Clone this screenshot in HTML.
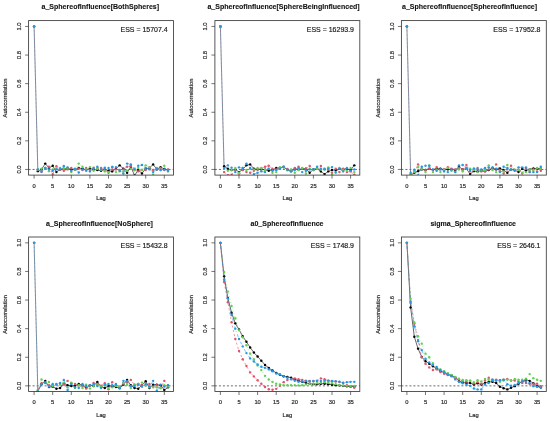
<!DOCTYPE html><html><head><meta charset="utf-8"><style>html,body{margin:0;padding:0;background:#fff}svg{display:block;filter:blur(0.3px)}</style></head><body><svg width="550" height="421" viewBox="0 0 550 421" font-family="Liberation Sans, sans-serif">
<rect width="550" height="421" fill="#fff"/>
<g transform="translate(0.00,0.00)">
<clipPath id="c0"><rect x="28.6" y="20.6" width="144.90" height="154.50"/></clipPath>
<line x1="28.6" x2="173.5" y1="169.45" y2="169.45" stroke="#2a2a2a" stroke-width="0.7" stroke-dasharray="2 2"/>
<g clip-path="url(#c0)">
<line x1="34.10" y1="26.45" x2="37.82" y2="169.99" stroke="#4f7790" stroke-width="0.8"/>
<line x1="34.10" y1="26.45" x2="37.82" y2="169.99" stroke="#DF536B" stroke-width="0.7" stroke-dasharray="1 3" opacity="0.7"/>
<path d="M37.82 171.14 L41.54 169.38 L45.26 163.58 L48.98 168.03 L52.70 165.74 L56.42 172.08 L60.14 169.38 L63.86 168.71 L67.58 168.71 L71.30 169.38 L75.02 169.38 L78.74 168.03 L82.46 168.71 L86.18 169.79 L89.90 168.71 L93.62 169.38 L97.34 170.06 L101.06 170.73 L104.78 169.38 L108.50 170.73 L112.22 171.41 L115.94 168.71 L119.66 165.34 L123.38 168.71 L127.10 172.76 L130.82 166.68 L134.54 175.45 L138.26 170.06 L141.98 173.43 L145.70 168.71 L149.42 168.03 L153.14 164.39 L156.86 169.38 L160.58 167.09 L164.30 168.98 L168.02 170.06" fill="none" stroke="#000000" stroke-width="0.6"/>
<circle cx="34.10" cy="26.45" r="1.2" fill="#000000"/>
<circle cx="37.82" cy="171.14" r="1.2" fill="#000000"/>
<circle cx="41.54" cy="169.38" r="1.2" fill="#000000"/>
<circle cx="45.26" cy="163.58" r="1.2" fill="#000000"/>
<circle cx="48.98" cy="168.03" r="1.2" fill="#000000"/>
<circle cx="52.70" cy="165.74" r="1.2" fill="#000000"/>
<circle cx="56.42" cy="172.08" r="1.2" fill="#000000"/>
<circle cx="60.14" cy="169.38" r="1.2" fill="#000000"/>
<circle cx="63.86" cy="168.71" r="1.2" fill="#000000"/>
<circle cx="67.58" cy="168.71" r="1.2" fill="#000000"/>
<circle cx="71.30" cy="169.38" r="1.2" fill="#000000"/>
<circle cx="75.02" cy="169.38" r="1.2" fill="#000000"/>
<circle cx="78.74" cy="168.03" r="1.2" fill="#000000"/>
<circle cx="82.46" cy="168.71" r="1.2" fill="#000000"/>
<circle cx="86.18" cy="169.79" r="1.2" fill="#000000"/>
<circle cx="89.90" cy="168.71" r="1.2" fill="#000000"/>
<circle cx="93.62" cy="169.38" r="1.2" fill="#000000"/>
<circle cx="97.34" cy="170.06" r="1.2" fill="#000000"/>
<circle cx="101.06" cy="170.73" r="1.2" fill="#000000"/>
<circle cx="104.78" cy="169.38" r="1.2" fill="#000000"/>
<circle cx="108.50" cy="170.73" r="1.2" fill="#000000"/>
<circle cx="112.22" cy="171.41" r="1.2" fill="#000000"/>
<circle cx="115.94" cy="168.71" r="1.2" fill="#000000"/>
<circle cx="119.66" cy="165.34" r="1.2" fill="#000000"/>
<circle cx="123.38" cy="168.71" r="1.2" fill="#000000"/>
<circle cx="127.10" cy="172.76" r="1.2" fill="#000000"/>
<circle cx="130.82" cy="166.68" r="1.2" fill="#000000"/>
<circle cx="134.54" cy="175.45" r="1.2" fill="#000000"/>
<circle cx="138.26" cy="170.06" r="1.2" fill="#000000"/>
<circle cx="141.98" cy="173.43" r="1.2" fill="#000000"/>
<circle cx="145.70" cy="168.71" r="1.2" fill="#000000"/>
<circle cx="149.42" cy="168.03" r="1.2" fill="#000000"/>
<circle cx="153.14" cy="164.39" r="1.2" fill="#000000"/>
<circle cx="156.86" cy="169.38" r="1.2" fill="#000000"/>
<circle cx="160.58" cy="167.09" r="1.2" fill="#000000"/>
<circle cx="164.30" cy="168.98" r="1.2" fill="#000000"/>
<circle cx="168.02" cy="170.06" r="1.2" fill="#000000"/>
<path d="M37.82 170.06 L41.54 171.68 L45.26 168.71 L48.98 166.68 L52.70 174.10 L56.42 166.28 L60.14 169.38 L63.86 170.73 L67.58 169.38 L71.30 168.03 L75.02 169.38 L78.74 168.71 L82.46 170.06 L86.18 168.03 L89.90 170.06 L93.62 167.63 L97.34 168.71 L101.06 168.03 L104.78 170.06 L108.50 172.76 L112.22 169.38 L115.94 169.38 L119.66 170.06 L123.38 169.38 L127.10 166.68 L130.82 166.01 L134.54 170.06 L138.26 171.41 L141.98 170.06 L145.70 170.06 L149.42 167.36 L153.14 170.06 L156.86 168.71 L160.58 168.03 L164.30 170.06 L168.02 169.38" fill="none" stroke="#DF536B" stroke-width="0.6" stroke-dasharray="2.2 2.2"/>
<circle cx="34.10" cy="26.45" r="1.2" fill="#DF536B"/>
<circle cx="37.82" cy="170.06" r="1.2" fill="#DF536B"/>
<circle cx="41.54" cy="171.68" r="1.2" fill="#DF536B"/>
<circle cx="45.26" cy="168.71" r="1.2" fill="#DF536B"/>
<circle cx="48.98" cy="166.68" r="1.2" fill="#DF536B"/>
<circle cx="52.70" cy="174.10" r="1.2" fill="#DF536B"/>
<circle cx="56.42" cy="166.28" r="1.2" fill="#DF536B"/>
<circle cx="60.14" cy="169.38" r="1.2" fill="#DF536B"/>
<circle cx="63.86" cy="170.73" r="1.2" fill="#DF536B"/>
<circle cx="67.58" cy="169.38" r="1.2" fill="#DF536B"/>
<circle cx="71.30" cy="168.03" r="1.2" fill="#DF536B"/>
<circle cx="75.02" cy="169.38" r="1.2" fill="#DF536B"/>
<circle cx="78.74" cy="168.71" r="1.2" fill="#DF536B"/>
<circle cx="82.46" cy="170.06" r="1.2" fill="#DF536B"/>
<circle cx="86.18" cy="168.03" r="1.2" fill="#DF536B"/>
<circle cx="89.90" cy="170.06" r="1.2" fill="#DF536B"/>
<circle cx="93.62" cy="167.63" r="1.2" fill="#DF536B"/>
<circle cx="97.34" cy="168.71" r="1.2" fill="#DF536B"/>
<circle cx="101.06" cy="168.03" r="1.2" fill="#DF536B"/>
<circle cx="104.78" cy="170.06" r="1.2" fill="#DF536B"/>
<circle cx="108.50" cy="172.76" r="1.2" fill="#DF536B"/>
<circle cx="112.22" cy="169.38" r="1.2" fill="#DF536B"/>
<circle cx="115.94" cy="169.38" r="1.2" fill="#DF536B"/>
<circle cx="119.66" cy="170.06" r="1.2" fill="#DF536B"/>
<circle cx="123.38" cy="169.38" r="1.2" fill="#DF536B"/>
<circle cx="127.10" cy="166.68" r="1.2" fill="#DF536B"/>
<circle cx="130.82" cy="166.01" r="1.2" fill="#DF536B"/>
<circle cx="134.54" cy="170.06" r="1.2" fill="#DF536B"/>
<circle cx="138.26" cy="171.41" r="1.2" fill="#DF536B"/>
<circle cx="141.98" cy="170.06" r="1.2" fill="#DF536B"/>
<circle cx="145.70" cy="170.06" r="1.2" fill="#DF536B"/>
<circle cx="149.42" cy="167.36" r="1.2" fill="#DF536B"/>
<circle cx="153.14" cy="170.06" r="1.2" fill="#DF536B"/>
<circle cx="156.86" cy="168.71" r="1.2" fill="#DF536B"/>
<circle cx="160.58" cy="168.03" r="1.2" fill="#DF536B"/>
<circle cx="164.30" cy="170.06" r="1.2" fill="#DF536B"/>
<circle cx="168.02" cy="169.38" r="1.2" fill="#DF536B"/>
<path d="M37.82 169.38 L41.54 168.71 L45.26 168.03 L48.98 171.14 L52.70 169.38 L56.42 168.71 L60.14 168.03 L63.86 168.71 L67.58 168.03 L71.30 172.08 L75.02 169.38 L78.74 163.58 L82.46 166.68 L86.18 169.38 L89.90 167.09 L93.62 170.73 L97.34 168.71 L101.06 170.06 L104.78 171.41 L108.50 172.08 L112.22 166.68 L115.94 172.08 L119.66 171.41 L123.38 171.41 L127.10 170.73 L130.82 168.71 L134.54 170.06 L138.26 168.03 L141.98 170.06 L145.70 165.34 L149.42 167.36 L153.14 174.78 L156.86 168.03 L160.58 170.06 L164.30 165.74 L168.02 171.41" fill="none" stroke="#61D04F" stroke-width="0.6" stroke-dasharray="0.8 2.2"/>
<circle cx="34.10" cy="26.45" r="1.2" fill="#61D04F"/>
<circle cx="37.82" cy="169.38" r="1.2" fill="#61D04F"/>
<circle cx="41.54" cy="168.71" r="1.2" fill="#61D04F"/>
<circle cx="45.26" cy="168.03" r="1.2" fill="#61D04F"/>
<circle cx="48.98" cy="171.14" r="1.2" fill="#61D04F"/>
<circle cx="52.70" cy="169.38" r="1.2" fill="#61D04F"/>
<circle cx="56.42" cy="168.71" r="1.2" fill="#61D04F"/>
<circle cx="60.14" cy="168.03" r="1.2" fill="#61D04F"/>
<circle cx="63.86" cy="168.71" r="1.2" fill="#61D04F"/>
<circle cx="67.58" cy="168.03" r="1.2" fill="#61D04F"/>
<circle cx="71.30" cy="172.08" r="1.2" fill="#61D04F"/>
<circle cx="75.02" cy="169.38" r="1.2" fill="#61D04F"/>
<circle cx="78.74" cy="163.58" r="1.2" fill="#61D04F"/>
<circle cx="82.46" cy="166.68" r="1.2" fill="#61D04F"/>
<circle cx="86.18" cy="169.38" r="1.2" fill="#61D04F"/>
<circle cx="89.90" cy="167.09" r="1.2" fill="#61D04F"/>
<circle cx="93.62" cy="170.73" r="1.2" fill="#61D04F"/>
<circle cx="97.34" cy="168.71" r="1.2" fill="#61D04F"/>
<circle cx="101.06" cy="170.06" r="1.2" fill="#61D04F"/>
<circle cx="104.78" cy="171.41" r="1.2" fill="#61D04F"/>
<circle cx="108.50" cy="172.08" r="1.2" fill="#61D04F"/>
<circle cx="112.22" cy="166.68" r="1.2" fill="#61D04F"/>
<circle cx="115.94" cy="172.08" r="1.2" fill="#61D04F"/>
<circle cx="119.66" cy="171.41" r="1.2" fill="#61D04F"/>
<circle cx="123.38" cy="171.41" r="1.2" fill="#61D04F"/>
<circle cx="127.10" cy="170.73" r="1.2" fill="#61D04F"/>
<circle cx="130.82" cy="168.71" r="1.2" fill="#61D04F"/>
<circle cx="134.54" cy="170.06" r="1.2" fill="#61D04F"/>
<circle cx="138.26" cy="168.03" r="1.2" fill="#61D04F"/>
<circle cx="141.98" cy="170.06" r="1.2" fill="#61D04F"/>
<circle cx="145.70" cy="165.34" r="1.2" fill="#61D04F"/>
<circle cx="149.42" cy="167.36" r="1.2" fill="#61D04F"/>
<circle cx="153.14" cy="174.78" r="1.2" fill="#61D04F"/>
<circle cx="156.86" cy="168.03" r="1.2" fill="#61D04F"/>
<circle cx="160.58" cy="170.06" r="1.2" fill="#61D04F"/>
<circle cx="164.30" cy="165.74" r="1.2" fill="#61D04F"/>
<circle cx="168.02" cy="171.41" r="1.2" fill="#61D04F"/>
<path d="M37.82 169.38 L41.54 171.68 L45.26 168.03 L48.98 169.38 L52.70 170.73 L56.42 169.38 L60.14 168.71 L63.86 166.01 L67.58 167.36 L71.30 170.73 L75.02 168.71 L78.74 172.49 L82.46 169.38 L86.18 170.73 L89.90 171.41 L93.62 168.71 L97.34 166.68 L101.06 169.38 L104.78 167.63 L108.50 168.03 L112.22 167.09 L115.94 167.09 L119.66 170.73 L123.38 173.43 L127.10 163.58 L130.82 164.39 L134.54 168.71 L138.26 165.74 L141.98 164.93 L145.70 168.03 L149.42 169.38 L153.14 172.08 L156.86 168.71 L160.58 170.06 L164.30 169.38 L168.02 170.73" fill="none" stroke="#2297E6" stroke-width="0.6" stroke-dasharray="0.8 2.2 3 2.2"/>
<circle cx="34.10" cy="26.45" r="1.2" fill="#2297E6"/>
<circle cx="37.82" cy="169.38" r="1.2" fill="#2297E6"/>
<circle cx="41.54" cy="171.68" r="1.2" fill="#2297E6"/>
<circle cx="45.26" cy="168.03" r="1.2" fill="#2297E6"/>
<circle cx="48.98" cy="169.38" r="1.2" fill="#2297E6"/>
<circle cx="52.70" cy="170.73" r="1.2" fill="#2297E6"/>
<circle cx="56.42" cy="169.38" r="1.2" fill="#2297E6"/>
<circle cx="60.14" cy="168.71" r="1.2" fill="#2297E6"/>
<circle cx="63.86" cy="166.01" r="1.2" fill="#2297E6"/>
<circle cx="67.58" cy="167.36" r="1.2" fill="#2297E6"/>
<circle cx="71.30" cy="170.73" r="1.2" fill="#2297E6"/>
<circle cx="75.02" cy="168.71" r="1.2" fill="#2297E6"/>
<circle cx="78.74" cy="172.49" r="1.2" fill="#2297E6"/>
<circle cx="82.46" cy="169.38" r="1.2" fill="#2297E6"/>
<circle cx="86.18" cy="170.73" r="1.2" fill="#2297E6"/>
<circle cx="89.90" cy="171.41" r="1.2" fill="#2297E6"/>
<circle cx="93.62" cy="168.71" r="1.2" fill="#2297E6"/>
<circle cx="97.34" cy="166.68" r="1.2" fill="#2297E6"/>
<circle cx="101.06" cy="169.38" r="1.2" fill="#2297E6"/>
<circle cx="104.78" cy="167.63" r="1.2" fill="#2297E6"/>
<circle cx="108.50" cy="168.03" r="1.2" fill="#2297E6"/>
<circle cx="112.22" cy="167.09" r="1.2" fill="#2297E6"/>
<circle cx="115.94" cy="167.09" r="1.2" fill="#2297E6"/>
<circle cx="119.66" cy="170.73" r="1.2" fill="#2297E6"/>
<circle cx="123.38" cy="173.43" r="1.2" fill="#2297E6"/>
<circle cx="127.10" cy="163.58" r="1.2" fill="#2297E6"/>
<circle cx="130.82" cy="164.39" r="1.2" fill="#2297E6"/>
<circle cx="134.54" cy="168.71" r="1.2" fill="#2297E6"/>
<circle cx="138.26" cy="165.74" r="1.2" fill="#2297E6"/>
<circle cx="141.98" cy="164.93" r="1.2" fill="#2297E6"/>
<circle cx="145.70" cy="168.03" r="1.2" fill="#2297E6"/>
<circle cx="149.42" cy="169.38" r="1.2" fill="#2297E6"/>
<circle cx="153.14" cy="172.08" r="1.2" fill="#2297E6"/>
<circle cx="156.86" cy="168.71" r="1.2" fill="#2297E6"/>
<circle cx="160.58" cy="170.06" r="1.2" fill="#2297E6"/>
<circle cx="164.30" cy="169.38" r="1.2" fill="#2297E6"/>
<circle cx="168.02" cy="170.73" r="1.2" fill="#2297E6"/>
</g>
<rect x="28.6" y="20.6" width="144.90" height="154.50" fill="none" stroke="#3a3a3a" stroke-width="0.85"/>
<line x1="34.10" x2="34.10" y1="175.1" y2="178.6" stroke="#3a3a3a" stroke-width="0.7"/>
<text transform="translate(34.10,188.00) scale(0.9709,1)" font-size="5.974" text-anchor="middle" fill="#2a2a2a" stroke="#2a2a2a" stroke-width="0.2">0</text>
<line x1="52.70" x2="52.70" y1="175.1" y2="178.6" stroke="#3a3a3a" stroke-width="0.7"/>
<text transform="translate(52.70,188.00) scale(0.9709,1)" font-size="5.974" text-anchor="middle" fill="#2a2a2a" stroke="#2a2a2a" stroke-width="0.2">5</text>
<line x1="71.30" x2="71.30" y1="175.1" y2="178.6" stroke="#3a3a3a" stroke-width="0.7"/>
<text transform="translate(71.30,188.00) scale(0.9709,1)" font-size="5.974" text-anchor="middle" fill="#2a2a2a" stroke="#2a2a2a" stroke-width="0.2">10</text>
<line x1="89.90" x2="89.90" y1="175.1" y2="178.6" stroke="#3a3a3a" stroke-width="0.7"/>
<text transform="translate(89.90,188.00) scale(0.9709,1)" font-size="5.974" text-anchor="middle" fill="#2a2a2a" stroke="#2a2a2a" stroke-width="0.2">15</text>
<line x1="108.50" x2="108.50" y1="175.1" y2="178.6" stroke="#3a3a3a" stroke-width="0.7"/>
<text transform="translate(108.50,188.00) scale(0.9709,1)" font-size="5.974" text-anchor="middle" fill="#2a2a2a" stroke="#2a2a2a" stroke-width="0.2">20</text>
<line x1="127.10" x2="127.10" y1="175.1" y2="178.6" stroke="#3a3a3a" stroke-width="0.7"/>
<text transform="translate(127.10,188.00) scale(0.9709,1)" font-size="5.974" text-anchor="middle" fill="#2a2a2a" stroke="#2a2a2a" stroke-width="0.2">25</text>
<line x1="145.70" x2="145.70" y1="175.1" y2="178.6" stroke="#3a3a3a" stroke-width="0.7"/>
<text transform="translate(145.70,188.00) scale(0.9709,1)" font-size="5.974" text-anchor="middle" fill="#2a2a2a" stroke="#2a2a2a" stroke-width="0.2">30</text>
<line x1="164.30" x2="164.30" y1="175.1" y2="178.6" stroke="#3a3a3a" stroke-width="0.7"/>
<text transform="translate(164.30,188.00) scale(0.9709,1)" font-size="5.974" text-anchor="middle" fill="#2a2a2a" stroke="#2a2a2a" stroke-width="0.2">35</text>
<line x1="25.1" x2="28.6" y1="169.45" y2="169.45" stroke="#3a3a3a" stroke-width="0.7"/>
<text transform="translate(20.90,169.45) rotate(-90) scale(0.9709,1)" font-size="5.974" text-anchor="middle" fill="#2a2a2a" stroke="#2a2a2a" stroke-width="0.2">0.0</text>
<line x1="25.1" x2="28.6" y1="140.85" y2="140.85" stroke="#3a3a3a" stroke-width="0.7"/>
<text transform="translate(20.90,140.85) rotate(-90) scale(0.9709,1)" font-size="5.974" text-anchor="middle" fill="#2a2a2a" stroke="#2a2a2a" stroke-width="0.2">0.2</text>
<line x1="25.1" x2="28.6" y1="112.25" y2="112.25" stroke="#3a3a3a" stroke-width="0.7"/>
<text transform="translate(20.90,112.25) rotate(-90) scale(0.9709,1)" font-size="5.974" text-anchor="middle" fill="#2a2a2a" stroke="#2a2a2a" stroke-width="0.2">0.4</text>
<line x1="25.1" x2="28.6" y1="83.65" y2="83.65" stroke="#3a3a3a" stroke-width="0.7"/>
<text transform="translate(20.90,83.65) rotate(-90) scale(0.9709,1)" font-size="5.974" text-anchor="middle" fill="#2a2a2a" stroke="#2a2a2a" stroke-width="0.2">0.6</text>
<line x1="25.1" x2="28.6" y1="55.05" y2="55.05" stroke="#3a3a3a" stroke-width="0.7"/>
<text transform="translate(20.90,55.05) rotate(-90) scale(0.9709,1)" font-size="5.974" text-anchor="middle" fill="#2a2a2a" stroke="#2a2a2a" stroke-width="0.2">0.8</text>
<line x1="25.1" x2="28.6" y1="26.45" y2="26.45" stroke="#3a3a3a" stroke-width="0.7"/>
<text transform="translate(20.90,26.45) rotate(-90) scale(0.9709,1)" font-size="5.974" text-anchor="middle" fill="#2a2a2a" stroke="#2a2a2a" stroke-width="0.2">1.0</text>
<text transform="translate(100.30,8.90) scale(0.9259,1)" font-size="7.603" text-anchor="middle" font-weight="bold" fill="#111" stroke="#111" stroke-width="0.1">a_SphereofInfluence[BothSpheres]</text>
<text transform="translate(167.70,31.70) scale(0.9091,1)" font-size="7.700" text-anchor="end" fill="#151515" stroke="#151515" stroke-width="0.17">ESS = 15707.4</text>
<text transform="translate(101.00,200.40) scale(0.9709,1)" font-size="5.974" text-anchor="middle" fill="#2a2a2a" stroke="#2a2a2a" stroke-width="0.2">Lag</text>
<text transform="translate(7.10,98.00) rotate(-90) scale(0.9709,1)" font-size="5.974" text-anchor="middle" fill="#2a2a2a" stroke="#2a2a2a" stroke-width="0.2">Autocorrelation</text>
</g>
<g transform="translate(186.30,0.00)">
<clipPath id="c1"><rect x="28.6" y="20.6" width="144.90" height="154.50"/></clipPath>
<line x1="28.6" x2="173.5" y1="169.45" y2="169.45" stroke="#2a2a2a" stroke-width="0.7" stroke-dasharray="2 2"/>
<g clip-path="url(#c1)">
<line x1="34.10" y1="26.45" x2="37.82" y2="168.78" stroke="#4f7790" stroke-width="0.8"/>
<line x1="34.10" y1="26.45" x2="37.82" y2="168.78" stroke="#DF536B" stroke-width="0.7" stroke-dasharray="1 3" opacity="0.7"/>
<path d="M37.82 166.28 L41.54 168.71 L45.26 170.06 L48.98 169.38 L52.70 172.08 L56.42 169.38 L60.14 165.34 L63.86 164.39 L67.58 168.71 L71.30 169.38 L75.02 169.38 L78.74 169.79 L82.46 170.73 L86.18 170.06 L89.90 168.03 L93.62 168.03 L97.34 167.09 L101.06 169.79 L104.78 171.14 L108.50 168.71 L112.22 169.38 L115.94 168.71 L119.66 168.71 L123.38 172.76 L127.10 169.38 L130.82 168.71 L134.54 171.41 L138.26 174.10 L141.98 171.41 L145.70 170.06 L149.42 170.06 L153.14 168.71 L156.86 169.38 L160.58 168.71 L164.30 170.06 L168.02 165.34" fill="none" stroke="#000000" stroke-width="0.6"/>
<circle cx="34.10" cy="26.45" r="1.2" fill="#000000"/>
<circle cx="37.82" cy="166.28" r="1.2" fill="#000000"/>
<circle cx="41.54" cy="168.71" r="1.2" fill="#000000"/>
<circle cx="45.26" cy="170.06" r="1.2" fill="#000000"/>
<circle cx="48.98" cy="169.38" r="1.2" fill="#000000"/>
<circle cx="52.70" cy="172.08" r="1.2" fill="#000000"/>
<circle cx="56.42" cy="169.38" r="1.2" fill="#000000"/>
<circle cx="60.14" cy="165.34" r="1.2" fill="#000000"/>
<circle cx="63.86" cy="164.39" r="1.2" fill="#000000"/>
<circle cx="67.58" cy="168.71" r="1.2" fill="#000000"/>
<circle cx="71.30" cy="169.38" r="1.2" fill="#000000"/>
<circle cx="75.02" cy="169.38" r="1.2" fill="#000000"/>
<circle cx="78.74" cy="169.79" r="1.2" fill="#000000"/>
<circle cx="82.46" cy="170.73" r="1.2" fill="#000000"/>
<circle cx="86.18" cy="170.06" r="1.2" fill="#000000"/>
<circle cx="89.90" cy="168.03" r="1.2" fill="#000000"/>
<circle cx="93.62" cy="168.03" r="1.2" fill="#000000"/>
<circle cx="97.34" cy="167.09" r="1.2" fill="#000000"/>
<circle cx="101.06" cy="169.79" r="1.2" fill="#000000"/>
<circle cx="104.78" cy="171.14" r="1.2" fill="#000000"/>
<circle cx="108.50" cy="168.71" r="1.2" fill="#000000"/>
<circle cx="112.22" cy="169.38" r="1.2" fill="#000000"/>
<circle cx="115.94" cy="168.71" r="1.2" fill="#000000"/>
<circle cx="119.66" cy="168.71" r="1.2" fill="#000000"/>
<circle cx="123.38" cy="172.76" r="1.2" fill="#000000"/>
<circle cx="127.10" cy="169.38" r="1.2" fill="#000000"/>
<circle cx="130.82" cy="168.71" r="1.2" fill="#000000"/>
<circle cx="134.54" cy="171.41" r="1.2" fill="#000000"/>
<circle cx="138.26" cy="174.10" r="1.2" fill="#000000"/>
<circle cx="141.98" cy="171.41" r="1.2" fill="#000000"/>
<circle cx="145.70" cy="170.06" r="1.2" fill="#000000"/>
<circle cx="149.42" cy="170.06" r="1.2" fill="#000000"/>
<circle cx="153.14" cy="168.71" r="1.2" fill="#000000"/>
<circle cx="156.86" cy="169.38" r="1.2" fill="#000000"/>
<circle cx="160.58" cy="168.71" r="1.2" fill="#000000"/>
<circle cx="164.30" cy="170.06" r="1.2" fill="#000000"/>
<circle cx="168.02" cy="165.34" r="1.2" fill="#000000"/>
<path d="M37.82 172.08 L41.54 175.18 L45.26 174.78 L48.98 170.06 L52.70 175.45 L56.42 170.06 L60.14 172.08 L63.86 172.76 L67.58 170.73 L71.30 169.38 L75.02 168.71 L78.74 166.68 L82.46 165.74 L86.18 168.71 L89.90 169.38 L93.62 168.71 L97.34 166.68 L101.06 168.98 L104.78 170.06 L108.50 168.03 L112.22 166.68 L115.94 168.71 L119.66 168.71 L123.38 166.01 L127.10 170.06 L130.82 168.71 L134.54 166.01 L138.26 168.71 L141.98 169.38 L145.70 172.76 L149.42 168.71 L153.14 172.08 L156.86 168.71 L160.58 172.08 L164.30 171.41 L168.02 174.78" fill="none" stroke="#DF536B" stroke-width="0.6" stroke-dasharray="2.2 2.2"/>
<circle cx="34.10" cy="26.45" r="1.2" fill="#DF536B"/>
<circle cx="37.82" cy="172.08" r="1.2" fill="#DF536B"/>
<circle cx="41.54" cy="175.18" r="1.2" fill="#DF536B"/>
<circle cx="45.26" cy="174.78" r="1.2" fill="#DF536B"/>
<circle cx="48.98" cy="170.06" r="1.2" fill="#DF536B"/>
<circle cx="52.70" cy="175.45" r="1.2" fill="#DF536B"/>
<circle cx="56.42" cy="170.06" r="1.2" fill="#DF536B"/>
<circle cx="60.14" cy="172.08" r="1.2" fill="#DF536B"/>
<circle cx="63.86" cy="172.76" r="1.2" fill="#DF536B"/>
<circle cx="67.58" cy="170.73" r="1.2" fill="#DF536B"/>
<circle cx="71.30" cy="169.38" r="1.2" fill="#DF536B"/>
<circle cx="75.02" cy="168.71" r="1.2" fill="#DF536B"/>
<circle cx="78.74" cy="166.68" r="1.2" fill="#DF536B"/>
<circle cx="82.46" cy="165.74" r="1.2" fill="#DF536B"/>
<circle cx="86.18" cy="168.71" r="1.2" fill="#DF536B"/>
<circle cx="89.90" cy="169.38" r="1.2" fill="#DF536B"/>
<circle cx="93.62" cy="168.71" r="1.2" fill="#DF536B"/>
<circle cx="97.34" cy="166.68" r="1.2" fill="#DF536B"/>
<circle cx="101.06" cy="168.98" r="1.2" fill="#DF536B"/>
<circle cx="104.78" cy="170.06" r="1.2" fill="#DF536B"/>
<circle cx="108.50" cy="168.03" r="1.2" fill="#DF536B"/>
<circle cx="112.22" cy="166.68" r="1.2" fill="#DF536B"/>
<circle cx="115.94" cy="168.71" r="1.2" fill="#DF536B"/>
<circle cx="119.66" cy="168.71" r="1.2" fill="#DF536B"/>
<circle cx="123.38" cy="166.01" r="1.2" fill="#DF536B"/>
<circle cx="127.10" cy="170.06" r="1.2" fill="#DF536B"/>
<circle cx="130.82" cy="168.71" r="1.2" fill="#DF536B"/>
<circle cx="134.54" cy="166.01" r="1.2" fill="#DF536B"/>
<circle cx="138.26" cy="168.71" r="1.2" fill="#DF536B"/>
<circle cx="141.98" cy="169.38" r="1.2" fill="#DF536B"/>
<circle cx="145.70" cy="172.76" r="1.2" fill="#DF536B"/>
<circle cx="149.42" cy="168.71" r="1.2" fill="#DF536B"/>
<circle cx="153.14" cy="172.08" r="1.2" fill="#DF536B"/>
<circle cx="156.86" cy="168.71" r="1.2" fill="#DF536B"/>
<circle cx="160.58" cy="172.08" r="1.2" fill="#DF536B"/>
<circle cx="164.30" cy="171.41" r="1.2" fill="#DF536B"/>
<circle cx="168.02" cy="174.78" r="1.2" fill="#DF536B"/>
<path d="M37.82 168.71 L41.54 170.73 L45.26 170.06 L48.98 168.03 L52.70 172.76 L56.42 168.03 L60.14 170.06 L63.86 168.71 L67.58 169.38 L71.30 168.03 L75.02 168.03 L78.74 170.06 L82.46 168.71 L86.18 172.76 L89.90 172.08 L93.62 167.09 L97.34 167.36 L101.06 170.33 L104.78 169.38 L108.50 172.76 L112.22 170.06 L115.94 168.03 L119.66 173.43 L123.38 168.71 L127.10 170.06 L130.82 168.71 L134.54 169.38 L138.26 169.38 L141.98 167.36 L145.70 174.78 L149.42 172.76 L153.14 168.03 L156.86 170.06 L160.58 170.73 L164.30 168.03 L168.02 172.08" fill="none" stroke="#61D04F" stroke-width="0.6" stroke-dasharray="0.8 2.2"/>
<circle cx="34.10" cy="26.45" r="1.2" fill="#61D04F"/>
<circle cx="37.82" cy="168.71" r="1.2" fill="#61D04F"/>
<circle cx="41.54" cy="170.73" r="1.2" fill="#61D04F"/>
<circle cx="45.26" cy="170.06" r="1.2" fill="#61D04F"/>
<circle cx="48.98" cy="168.03" r="1.2" fill="#61D04F"/>
<circle cx="52.70" cy="172.76" r="1.2" fill="#61D04F"/>
<circle cx="56.42" cy="168.03" r="1.2" fill="#61D04F"/>
<circle cx="60.14" cy="170.06" r="1.2" fill="#61D04F"/>
<circle cx="63.86" cy="168.71" r="1.2" fill="#61D04F"/>
<circle cx="67.58" cy="169.38" r="1.2" fill="#61D04F"/>
<circle cx="71.30" cy="168.03" r="1.2" fill="#61D04F"/>
<circle cx="75.02" cy="168.03" r="1.2" fill="#61D04F"/>
<circle cx="78.74" cy="170.06" r="1.2" fill="#61D04F"/>
<circle cx="82.46" cy="168.71" r="1.2" fill="#61D04F"/>
<circle cx="86.18" cy="172.76" r="1.2" fill="#61D04F"/>
<circle cx="89.90" cy="172.08" r="1.2" fill="#61D04F"/>
<circle cx="93.62" cy="167.09" r="1.2" fill="#61D04F"/>
<circle cx="97.34" cy="167.36" r="1.2" fill="#61D04F"/>
<circle cx="101.06" cy="170.33" r="1.2" fill="#61D04F"/>
<circle cx="104.78" cy="169.38" r="1.2" fill="#61D04F"/>
<circle cx="108.50" cy="172.76" r="1.2" fill="#61D04F"/>
<circle cx="112.22" cy="170.06" r="1.2" fill="#61D04F"/>
<circle cx="115.94" cy="168.03" r="1.2" fill="#61D04F"/>
<circle cx="119.66" cy="173.43" r="1.2" fill="#61D04F"/>
<circle cx="123.38" cy="168.71" r="1.2" fill="#61D04F"/>
<circle cx="127.10" cy="170.06" r="1.2" fill="#61D04F"/>
<circle cx="130.82" cy="168.71" r="1.2" fill="#61D04F"/>
<circle cx="134.54" cy="169.38" r="1.2" fill="#61D04F"/>
<circle cx="138.26" cy="169.38" r="1.2" fill="#61D04F"/>
<circle cx="141.98" cy="167.36" r="1.2" fill="#61D04F"/>
<circle cx="145.70" cy="174.78" r="1.2" fill="#61D04F"/>
<circle cx="149.42" cy="172.76" r="1.2" fill="#61D04F"/>
<circle cx="153.14" cy="168.03" r="1.2" fill="#61D04F"/>
<circle cx="156.86" cy="170.06" r="1.2" fill="#61D04F"/>
<circle cx="160.58" cy="170.73" r="1.2" fill="#61D04F"/>
<circle cx="164.30" cy="168.03" r="1.2" fill="#61D04F"/>
<circle cx="168.02" cy="172.08" r="1.2" fill="#61D04F"/>
<path d="M37.82 168.03 L41.54 165.34 L45.26 167.63 L48.98 172.08 L52.70 167.36 L56.42 168.03 L60.14 163.58 L63.86 168.03 L67.58 174.10 L71.30 172.76 L75.02 171.41 L78.74 172.08 L82.46 168.71 L86.18 170.73 L89.90 170.06 L93.62 168.71 L97.34 166.68 L101.06 169.79 L104.78 171.41 L108.50 170.06 L112.22 168.03 L115.94 172.08 L119.66 170.73 L123.38 169.38 L127.10 169.38 L130.82 166.68 L134.54 168.71 L138.26 169.38 L141.98 168.71 L145.70 167.09 L149.42 172.08 L153.14 168.71 L156.86 171.41 L160.58 168.03 L164.30 170.73 L168.02 169.38" fill="none" stroke="#2297E6" stroke-width="0.6" stroke-dasharray="0.8 2.2 3 2.2"/>
<circle cx="34.10" cy="26.45" r="1.2" fill="#2297E6"/>
<circle cx="37.82" cy="168.03" r="1.2" fill="#2297E6"/>
<circle cx="41.54" cy="165.34" r="1.2" fill="#2297E6"/>
<circle cx="45.26" cy="167.63" r="1.2" fill="#2297E6"/>
<circle cx="48.98" cy="172.08" r="1.2" fill="#2297E6"/>
<circle cx="52.70" cy="167.36" r="1.2" fill="#2297E6"/>
<circle cx="56.42" cy="168.03" r="1.2" fill="#2297E6"/>
<circle cx="60.14" cy="163.58" r="1.2" fill="#2297E6"/>
<circle cx="63.86" cy="168.03" r="1.2" fill="#2297E6"/>
<circle cx="67.58" cy="174.10" r="1.2" fill="#2297E6"/>
<circle cx="71.30" cy="172.76" r="1.2" fill="#2297E6"/>
<circle cx="75.02" cy="171.41" r="1.2" fill="#2297E6"/>
<circle cx="78.74" cy="172.08" r="1.2" fill="#2297E6"/>
<circle cx="82.46" cy="168.71" r="1.2" fill="#2297E6"/>
<circle cx="86.18" cy="170.73" r="1.2" fill="#2297E6"/>
<circle cx="89.90" cy="170.06" r="1.2" fill="#2297E6"/>
<circle cx="93.62" cy="168.71" r="1.2" fill="#2297E6"/>
<circle cx="97.34" cy="166.68" r="1.2" fill="#2297E6"/>
<circle cx="101.06" cy="169.79" r="1.2" fill="#2297E6"/>
<circle cx="104.78" cy="171.41" r="1.2" fill="#2297E6"/>
<circle cx="108.50" cy="170.06" r="1.2" fill="#2297E6"/>
<circle cx="112.22" cy="168.03" r="1.2" fill="#2297E6"/>
<circle cx="115.94" cy="172.08" r="1.2" fill="#2297E6"/>
<circle cx="119.66" cy="170.73" r="1.2" fill="#2297E6"/>
<circle cx="123.38" cy="169.38" r="1.2" fill="#2297E6"/>
<circle cx="127.10" cy="169.38" r="1.2" fill="#2297E6"/>
<circle cx="130.82" cy="166.68" r="1.2" fill="#2297E6"/>
<circle cx="134.54" cy="168.71" r="1.2" fill="#2297E6"/>
<circle cx="138.26" cy="169.38" r="1.2" fill="#2297E6"/>
<circle cx="141.98" cy="168.71" r="1.2" fill="#2297E6"/>
<circle cx="145.70" cy="167.09" r="1.2" fill="#2297E6"/>
<circle cx="149.42" cy="172.08" r="1.2" fill="#2297E6"/>
<circle cx="153.14" cy="168.71" r="1.2" fill="#2297E6"/>
<circle cx="156.86" cy="171.41" r="1.2" fill="#2297E6"/>
<circle cx="160.58" cy="168.03" r="1.2" fill="#2297E6"/>
<circle cx="164.30" cy="170.73" r="1.2" fill="#2297E6"/>
<circle cx="168.02" cy="169.38" r="1.2" fill="#2297E6"/>
</g>
<rect x="28.6" y="20.6" width="144.90" height="154.50" fill="none" stroke="#3a3a3a" stroke-width="0.85"/>
<line x1="34.10" x2="34.10" y1="175.1" y2="178.6" stroke="#3a3a3a" stroke-width="0.7"/>
<text transform="translate(34.10,188.00) scale(0.9709,1)" font-size="5.974" text-anchor="middle" fill="#2a2a2a" stroke="#2a2a2a" stroke-width="0.2">0</text>
<line x1="52.70" x2="52.70" y1="175.1" y2="178.6" stroke="#3a3a3a" stroke-width="0.7"/>
<text transform="translate(52.70,188.00) scale(0.9709,1)" font-size="5.974" text-anchor="middle" fill="#2a2a2a" stroke="#2a2a2a" stroke-width="0.2">5</text>
<line x1="71.30" x2="71.30" y1="175.1" y2="178.6" stroke="#3a3a3a" stroke-width="0.7"/>
<text transform="translate(71.30,188.00) scale(0.9709,1)" font-size="5.974" text-anchor="middle" fill="#2a2a2a" stroke="#2a2a2a" stroke-width="0.2">10</text>
<line x1="89.90" x2="89.90" y1="175.1" y2="178.6" stroke="#3a3a3a" stroke-width="0.7"/>
<text transform="translate(89.90,188.00) scale(0.9709,1)" font-size="5.974" text-anchor="middle" fill="#2a2a2a" stroke="#2a2a2a" stroke-width="0.2">15</text>
<line x1="108.50" x2="108.50" y1="175.1" y2="178.6" stroke="#3a3a3a" stroke-width="0.7"/>
<text transform="translate(108.50,188.00) scale(0.9709,1)" font-size="5.974" text-anchor="middle" fill="#2a2a2a" stroke="#2a2a2a" stroke-width="0.2">20</text>
<line x1="127.10" x2="127.10" y1="175.1" y2="178.6" stroke="#3a3a3a" stroke-width="0.7"/>
<text transform="translate(127.10,188.00) scale(0.9709,1)" font-size="5.974" text-anchor="middle" fill="#2a2a2a" stroke="#2a2a2a" stroke-width="0.2">25</text>
<line x1="145.70" x2="145.70" y1="175.1" y2="178.6" stroke="#3a3a3a" stroke-width="0.7"/>
<text transform="translate(145.70,188.00) scale(0.9709,1)" font-size="5.974" text-anchor="middle" fill="#2a2a2a" stroke="#2a2a2a" stroke-width="0.2">30</text>
<line x1="164.30" x2="164.30" y1="175.1" y2="178.6" stroke="#3a3a3a" stroke-width="0.7"/>
<text transform="translate(164.30,188.00) scale(0.9709,1)" font-size="5.974" text-anchor="middle" fill="#2a2a2a" stroke="#2a2a2a" stroke-width="0.2">35</text>
<line x1="25.1" x2="28.6" y1="169.45" y2="169.45" stroke="#3a3a3a" stroke-width="0.7"/>
<text transform="translate(20.90,169.45) rotate(-90) scale(0.9709,1)" font-size="5.974" text-anchor="middle" fill="#2a2a2a" stroke="#2a2a2a" stroke-width="0.2">0.0</text>
<line x1="25.1" x2="28.6" y1="140.85" y2="140.85" stroke="#3a3a3a" stroke-width="0.7"/>
<text transform="translate(20.90,140.85) rotate(-90) scale(0.9709,1)" font-size="5.974" text-anchor="middle" fill="#2a2a2a" stroke="#2a2a2a" stroke-width="0.2">0.2</text>
<line x1="25.1" x2="28.6" y1="112.25" y2="112.25" stroke="#3a3a3a" stroke-width="0.7"/>
<text transform="translate(20.90,112.25) rotate(-90) scale(0.9709,1)" font-size="5.974" text-anchor="middle" fill="#2a2a2a" stroke="#2a2a2a" stroke-width="0.2">0.4</text>
<line x1="25.1" x2="28.6" y1="83.65" y2="83.65" stroke="#3a3a3a" stroke-width="0.7"/>
<text transform="translate(20.90,83.65) rotate(-90) scale(0.9709,1)" font-size="5.974" text-anchor="middle" fill="#2a2a2a" stroke="#2a2a2a" stroke-width="0.2">0.6</text>
<line x1="25.1" x2="28.6" y1="55.05" y2="55.05" stroke="#3a3a3a" stroke-width="0.7"/>
<text transform="translate(20.90,55.05) rotate(-90) scale(0.9709,1)" font-size="5.974" text-anchor="middle" fill="#2a2a2a" stroke="#2a2a2a" stroke-width="0.2">0.8</text>
<line x1="25.1" x2="28.6" y1="26.45" y2="26.45" stroke="#3a3a3a" stroke-width="0.7"/>
<text transform="translate(20.90,26.45) rotate(-90) scale(0.9709,1)" font-size="5.974" text-anchor="middle" fill="#2a2a2a" stroke="#2a2a2a" stroke-width="0.2">1.0</text>
<text transform="translate(97.25,8.90) scale(0.9259,1)" font-size="7.603" text-anchor="middle" font-weight="bold" fill="#111" stroke="#111" stroke-width="0.1">a_SphereofInfluence[SphereBeingInfluenced]</text>
<text transform="translate(167.70,31.70) scale(0.9091,1)" font-size="7.700" text-anchor="end" fill="#151515" stroke="#151515" stroke-width="0.17">ESS = 16293.9</text>
<text transform="translate(101.00,200.40) scale(0.9709,1)" font-size="5.974" text-anchor="middle" fill="#2a2a2a" stroke="#2a2a2a" stroke-width="0.2">Lag</text>
<text transform="translate(7.10,98.00) rotate(-90) scale(0.9709,1)" font-size="5.974" text-anchor="middle" fill="#2a2a2a" stroke="#2a2a2a" stroke-width="0.2">Autocorrelation</text>
</g>
<g transform="translate(372.80,0.00)">
<clipPath id="c2"><rect x="28.6" y="20.6" width="144.90" height="154.50"/></clipPath>
<line x1="28.6" x2="173.5" y1="169.45" y2="169.45" stroke="#2a2a2a" stroke-width="0.7" stroke-dasharray="2 2"/>
<g clip-path="url(#c2)">
<line x1="34.10" y1="26.45" x2="37.82" y2="174.44" stroke="#4f7790" stroke-width="0.8"/>
<line x1="34.10" y1="26.45" x2="37.82" y2="174.44" stroke="#DF536B" stroke-width="0.7" stroke-dasharray="1 3" opacity="0.7"/>
<path d="M37.82 175.45 L41.54 172.76 L45.26 171.14 L48.98 169.38 L52.70 170.06 L56.42 168.71 L60.14 170.06 L63.86 168.71 L67.58 168.71 L71.30 169.79 L75.02 169.38 L78.74 169.38 L82.46 170.06 L86.18 166.68 L89.90 169.38 L93.62 168.71 L97.34 174.10 L101.06 171.14 L104.78 171.41 L108.50 170.73 L112.22 171.14 L115.94 170.06 L119.66 168.03 L123.38 169.38 L127.10 168.44 L130.82 170.06 L134.54 172.76 L138.26 169.38 L141.98 170.06 L145.70 172.08 L149.42 168.71 L153.14 170.73 L156.86 169.38 L160.58 168.44 L164.30 168.44 L168.02 168.71" fill="none" stroke="#000000" stroke-width="0.6"/>
<circle cx="34.10" cy="26.45" r="1.2" fill="#000000"/>
<circle cx="37.82" cy="175.45" r="1.2" fill="#000000"/>
<circle cx="41.54" cy="172.76" r="1.2" fill="#000000"/>
<circle cx="45.26" cy="171.14" r="1.2" fill="#000000"/>
<circle cx="48.98" cy="169.38" r="1.2" fill="#000000"/>
<circle cx="52.70" cy="170.06" r="1.2" fill="#000000"/>
<circle cx="56.42" cy="168.71" r="1.2" fill="#000000"/>
<circle cx="60.14" cy="170.06" r="1.2" fill="#000000"/>
<circle cx="63.86" cy="168.71" r="1.2" fill="#000000"/>
<circle cx="67.58" cy="168.71" r="1.2" fill="#000000"/>
<circle cx="71.30" cy="169.79" r="1.2" fill="#000000"/>
<circle cx="75.02" cy="169.38" r="1.2" fill="#000000"/>
<circle cx="78.74" cy="169.38" r="1.2" fill="#000000"/>
<circle cx="82.46" cy="170.06" r="1.2" fill="#000000"/>
<circle cx="86.18" cy="166.68" r="1.2" fill="#000000"/>
<circle cx="89.90" cy="169.38" r="1.2" fill="#000000"/>
<circle cx="93.62" cy="168.71" r="1.2" fill="#000000"/>
<circle cx="97.34" cy="174.10" r="1.2" fill="#000000"/>
<circle cx="101.06" cy="171.14" r="1.2" fill="#000000"/>
<circle cx="104.78" cy="171.41" r="1.2" fill="#000000"/>
<circle cx="108.50" cy="170.73" r="1.2" fill="#000000"/>
<circle cx="112.22" cy="171.14" r="1.2" fill="#000000"/>
<circle cx="115.94" cy="170.06" r="1.2" fill="#000000"/>
<circle cx="119.66" cy="168.03" r="1.2" fill="#000000"/>
<circle cx="123.38" cy="169.38" r="1.2" fill="#000000"/>
<circle cx="127.10" cy="168.44" r="1.2" fill="#000000"/>
<circle cx="130.82" cy="170.06" r="1.2" fill="#000000"/>
<circle cx="134.54" cy="172.76" r="1.2" fill="#000000"/>
<circle cx="138.26" cy="169.38" r="1.2" fill="#000000"/>
<circle cx="141.98" cy="170.06" r="1.2" fill="#000000"/>
<circle cx="145.70" cy="172.08" r="1.2" fill="#000000"/>
<circle cx="149.42" cy="168.71" r="1.2" fill="#000000"/>
<circle cx="153.14" cy="170.73" r="1.2" fill="#000000"/>
<circle cx="156.86" cy="169.38" r="1.2" fill="#000000"/>
<circle cx="160.58" cy="168.44" r="1.2" fill="#000000"/>
<circle cx="164.30" cy="168.44" r="1.2" fill="#000000"/>
<circle cx="168.02" cy="168.71" r="1.2" fill="#000000"/>
<path d="M37.82 174.10 L41.54 172.08 L45.26 164.39 L48.98 168.71 L52.70 170.06 L56.42 168.71 L60.14 170.06 L63.86 167.09 L67.58 169.38 L71.30 169.38 L75.02 167.09 L78.74 168.71 L82.46 169.38 L86.18 168.03 L89.90 169.38 L93.62 164.93 L97.34 171.41 L101.06 170.06 L104.78 168.03 L108.50 171.41 L112.22 171.41 L115.94 169.38 L119.66 168.03 L123.38 164.39 L127.10 170.06 L130.82 173.43 L134.54 169.38 L138.26 165.74 L141.98 170.06 L145.70 169.38 L149.42 173.43 L153.14 168.71 L156.86 172.08 L160.58 169.38 L164.30 171.41 L168.02 170.73" fill="none" stroke="#DF536B" stroke-width="0.6" stroke-dasharray="2.2 2.2"/>
<circle cx="34.10" cy="26.45" r="1.2" fill="#DF536B"/>
<circle cx="37.82" cy="174.10" r="1.2" fill="#DF536B"/>
<circle cx="41.54" cy="172.08" r="1.2" fill="#DF536B"/>
<circle cx="45.26" cy="164.39" r="1.2" fill="#DF536B"/>
<circle cx="48.98" cy="168.71" r="1.2" fill="#DF536B"/>
<circle cx="52.70" cy="170.06" r="1.2" fill="#DF536B"/>
<circle cx="56.42" cy="168.71" r="1.2" fill="#DF536B"/>
<circle cx="60.14" cy="170.06" r="1.2" fill="#DF536B"/>
<circle cx="63.86" cy="167.09" r="1.2" fill="#DF536B"/>
<circle cx="67.58" cy="169.38" r="1.2" fill="#DF536B"/>
<circle cx="71.30" cy="169.38" r="1.2" fill="#DF536B"/>
<circle cx="75.02" cy="167.09" r="1.2" fill="#DF536B"/>
<circle cx="78.74" cy="168.71" r="1.2" fill="#DF536B"/>
<circle cx="82.46" cy="169.38" r="1.2" fill="#DF536B"/>
<circle cx="86.18" cy="168.03" r="1.2" fill="#DF536B"/>
<circle cx="89.90" cy="169.38" r="1.2" fill="#DF536B"/>
<circle cx="93.62" cy="164.93" r="1.2" fill="#DF536B"/>
<circle cx="97.34" cy="171.41" r="1.2" fill="#DF536B"/>
<circle cx="101.06" cy="170.06" r="1.2" fill="#DF536B"/>
<circle cx="104.78" cy="168.03" r="1.2" fill="#DF536B"/>
<circle cx="108.50" cy="171.41" r="1.2" fill="#DF536B"/>
<circle cx="112.22" cy="171.41" r="1.2" fill="#DF536B"/>
<circle cx="115.94" cy="169.38" r="1.2" fill="#DF536B"/>
<circle cx="119.66" cy="168.03" r="1.2" fill="#DF536B"/>
<circle cx="123.38" cy="164.39" r="1.2" fill="#DF536B"/>
<circle cx="127.10" cy="170.06" r="1.2" fill="#DF536B"/>
<circle cx="130.82" cy="173.43" r="1.2" fill="#DF536B"/>
<circle cx="134.54" cy="169.38" r="1.2" fill="#DF536B"/>
<circle cx="138.26" cy="165.74" r="1.2" fill="#DF536B"/>
<circle cx="141.98" cy="170.06" r="1.2" fill="#DF536B"/>
<circle cx="145.70" cy="169.38" r="1.2" fill="#DF536B"/>
<circle cx="149.42" cy="173.43" r="1.2" fill="#DF536B"/>
<circle cx="153.14" cy="168.71" r="1.2" fill="#DF536B"/>
<circle cx="156.86" cy="172.08" r="1.2" fill="#DF536B"/>
<circle cx="160.58" cy="169.38" r="1.2" fill="#DF536B"/>
<circle cx="164.30" cy="171.41" r="1.2" fill="#DF536B"/>
<circle cx="168.02" cy="170.73" r="1.2" fill="#DF536B"/>
<path d="M37.82 175.45 L41.54 172.08 L45.26 167.09 L48.98 168.71 L52.70 172.08 L56.42 165.34 L60.14 172.08 L63.86 169.38 L67.58 172.08 L71.30 170.06 L75.02 168.03 L78.74 170.73 L82.46 172.08 L86.18 169.38 L89.90 171.41 L93.62 168.71 L97.34 168.71 L101.06 170.06 L104.78 172.08 L108.50 170.06 L112.22 170.06 L115.94 165.34 L119.66 170.06 L123.38 172.08 L127.10 171.41 L130.82 171.41 L134.54 164.93 L138.26 168.71 L141.98 170.06 L145.70 170.06 L149.42 172.76 L153.14 172.08 L156.86 169.38 L160.58 170.06 L164.30 168.03 L168.02 168.71" fill="none" stroke="#61D04F" stroke-width="0.6" stroke-dasharray="0.8 2.2"/>
<circle cx="34.10" cy="26.45" r="1.2" fill="#61D04F"/>
<circle cx="37.82" cy="175.45" r="1.2" fill="#61D04F"/>
<circle cx="41.54" cy="172.08" r="1.2" fill="#61D04F"/>
<circle cx="45.26" cy="167.09" r="1.2" fill="#61D04F"/>
<circle cx="48.98" cy="168.71" r="1.2" fill="#61D04F"/>
<circle cx="52.70" cy="172.08" r="1.2" fill="#61D04F"/>
<circle cx="56.42" cy="165.34" r="1.2" fill="#61D04F"/>
<circle cx="60.14" cy="172.08" r="1.2" fill="#61D04F"/>
<circle cx="63.86" cy="169.38" r="1.2" fill="#61D04F"/>
<circle cx="67.58" cy="172.08" r="1.2" fill="#61D04F"/>
<circle cx="71.30" cy="170.06" r="1.2" fill="#61D04F"/>
<circle cx="75.02" cy="168.03" r="1.2" fill="#61D04F"/>
<circle cx="78.74" cy="170.73" r="1.2" fill="#61D04F"/>
<circle cx="82.46" cy="172.08" r="1.2" fill="#61D04F"/>
<circle cx="86.18" cy="169.38" r="1.2" fill="#61D04F"/>
<circle cx="89.90" cy="171.41" r="1.2" fill="#61D04F"/>
<circle cx="93.62" cy="168.71" r="1.2" fill="#61D04F"/>
<circle cx="97.34" cy="168.71" r="1.2" fill="#61D04F"/>
<circle cx="101.06" cy="170.06" r="1.2" fill="#61D04F"/>
<circle cx="104.78" cy="172.08" r="1.2" fill="#61D04F"/>
<circle cx="108.50" cy="170.06" r="1.2" fill="#61D04F"/>
<circle cx="112.22" cy="170.06" r="1.2" fill="#61D04F"/>
<circle cx="115.94" cy="165.34" r="1.2" fill="#61D04F"/>
<circle cx="119.66" cy="170.06" r="1.2" fill="#61D04F"/>
<circle cx="123.38" cy="172.08" r="1.2" fill="#61D04F"/>
<circle cx="127.10" cy="171.41" r="1.2" fill="#61D04F"/>
<circle cx="130.82" cy="171.41" r="1.2" fill="#61D04F"/>
<circle cx="134.54" cy="164.93" r="1.2" fill="#61D04F"/>
<circle cx="138.26" cy="168.71" r="1.2" fill="#61D04F"/>
<circle cx="141.98" cy="170.06" r="1.2" fill="#61D04F"/>
<circle cx="145.70" cy="170.06" r="1.2" fill="#61D04F"/>
<circle cx="149.42" cy="172.76" r="1.2" fill="#61D04F"/>
<circle cx="153.14" cy="172.08" r="1.2" fill="#61D04F"/>
<circle cx="156.86" cy="169.38" r="1.2" fill="#61D04F"/>
<circle cx="160.58" cy="170.06" r="1.2" fill="#61D04F"/>
<circle cx="164.30" cy="168.03" r="1.2" fill="#61D04F"/>
<circle cx="168.02" cy="168.71" r="1.2" fill="#61D04F"/>
<path d="M37.82 172.76 L41.54 169.79 L45.26 175.45 L48.98 166.68 L52.70 165.74 L56.42 165.74 L60.14 169.38 L63.86 170.73 L67.58 169.38 L71.30 171.41 L75.02 172.08 L78.74 169.38 L82.46 172.08 L86.18 165.34 L89.90 164.93 L93.62 168.03 L97.34 170.06 L101.06 168.44 L104.78 169.38 L108.50 169.38 L112.22 168.03 L115.94 167.36 L119.66 167.36 L123.38 168.71 L127.10 172.08 L130.82 166.68 L134.54 168.03 L138.26 169.38 L141.98 170.73 L145.70 167.36 L149.42 167.36 L153.14 167.36 L156.86 172.08 L160.58 172.08 L164.30 172.08 L168.02 166.68" fill="none" stroke="#2297E6" stroke-width="0.6" stroke-dasharray="0.8 2.2 3 2.2"/>
<circle cx="34.10" cy="26.45" r="1.2" fill="#2297E6"/>
<circle cx="37.82" cy="172.76" r="1.2" fill="#2297E6"/>
<circle cx="41.54" cy="169.79" r="1.2" fill="#2297E6"/>
<circle cx="45.26" cy="175.45" r="1.2" fill="#2297E6"/>
<circle cx="48.98" cy="166.68" r="1.2" fill="#2297E6"/>
<circle cx="52.70" cy="165.74" r="1.2" fill="#2297E6"/>
<circle cx="56.42" cy="165.74" r="1.2" fill="#2297E6"/>
<circle cx="60.14" cy="169.38" r="1.2" fill="#2297E6"/>
<circle cx="63.86" cy="170.73" r="1.2" fill="#2297E6"/>
<circle cx="67.58" cy="169.38" r="1.2" fill="#2297E6"/>
<circle cx="71.30" cy="171.41" r="1.2" fill="#2297E6"/>
<circle cx="75.02" cy="172.08" r="1.2" fill="#2297E6"/>
<circle cx="78.74" cy="169.38" r="1.2" fill="#2297E6"/>
<circle cx="82.46" cy="172.08" r="1.2" fill="#2297E6"/>
<circle cx="86.18" cy="165.34" r="1.2" fill="#2297E6"/>
<circle cx="89.90" cy="164.93" r="1.2" fill="#2297E6"/>
<circle cx="93.62" cy="168.03" r="1.2" fill="#2297E6"/>
<circle cx="97.34" cy="170.06" r="1.2" fill="#2297E6"/>
<circle cx="101.06" cy="168.44" r="1.2" fill="#2297E6"/>
<circle cx="104.78" cy="169.38" r="1.2" fill="#2297E6"/>
<circle cx="108.50" cy="169.38" r="1.2" fill="#2297E6"/>
<circle cx="112.22" cy="168.03" r="1.2" fill="#2297E6"/>
<circle cx="115.94" cy="167.36" r="1.2" fill="#2297E6"/>
<circle cx="119.66" cy="167.36" r="1.2" fill="#2297E6"/>
<circle cx="123.38" cy="168.71" r="1.2" fill="#2297E6"/>
<circle cx="127.10" cy="172.08" r="1.2" fill="#2297E6"/>
<circle cx="130.82" cy="166.68" r="1.2" fill="#2297E6"/>
<circle cx="134.54" cy="168.03" r="1.2" fill="#2297E6"/>
<circle cx="138.26" cy="169.38" r="1.2" fill="#2297E6"/>
<circle cx="141.98" cy="170.73" r="1.2" fill="#2297E6"/>
<circle cx="145.70" cy="167.36" r="1.2" fill="#2297E6"/>
<circle cx="149.42" cy="167.36" r="1.2" fill="#2297E6"/>
<circle cx="153.14" cy="167.36" r="1.2" fill="#2297E6"/>
<circle cx="156.86" cy="172.08" r="1.2" fill="#2297E6"/>
<circle cx="160.58" cy="172.08" r="1.2" fill="#2297E6"/>
<circle cx="164.30" cy="172.08" r="1.2" fill="#2297E6"/>
<circle cx="168.02" cy="166.68" r="1.2" fill="#2297E6"/>
</g>
<rect x="28.6" y="20.6" width="144.90" height="154.50" fill="none" stroke="#3a3a3a" stroke-width="0.85"/>
<line x1="34.10" x2="34.10" y1="175.1" y2="178.6" stroke="#3a3a3a" stroke-width="0.7"/>
<text transform="translate(34.10,188.00) scale(0.9709,1)" font-size="5.974" text-anchor="middle" fill="#2a2a2a" stroke="#2a2a2a" stroke-width="0.2">0</text>
<line x1="52.70" x2="52.70" y1="175.1" y2="178.6" stroke="#3a3a3a" stroke-width="0.7"/>
<text transform="translate(52.70,188.00) scale(0.9709,1)" font-size="5.974" text-anchor="middle" fill="#2a2a2a" stroke="#2a2a2a" stroke-width="0.2">5</text>
<line x1="71.30" x2="71.30" y1="175.1" y2="178.6" stroke="#3a3a3a" stroke-width="0.7"/>
<text transform="translate(71.30,188.00) scale(0.9709,1)" font-size="5.974" text-anchor="middle" fill="#2a2a2a" stroke="#2a2a2a" stroke-width="0.2">10</text>
<line x1="89.90" x2="89.90" y1="175.1" y2="178.6" stroke="#3a3a3a" stroke-width="0.7"/>
<text transform="translate(89.90,188.00) scale(0.9709,1)" font-size="5.974" text-anchor="middle" fill="#2a2a2a" stroke="#2a2a2a" stroke-width="0.2">15</text>
<line x1="108.50" x2="108.50" y1="175.1" y2="178.6" stroke="#3a3a3a" stroke-width="0.7"/>
<text transform="translate(108.50,188.00) scale(0.9709,1)" font-size="5.974" text-anchor="middle" fill="#2a2a2a" stroke="#2a2a2a" stroke-width="0.2">20</text>
<line x1="127.10" x2="127.10" y1="175.1" y2="178.6" stroke="#3a3a3a" stroke-width="0.7"/>
<text transform="translate(127.10,188.00) scale(0.9709,1)" font-size="5.974" text-anchor="middle" fill="#2a2a2a" stroke="#2a2a2a" stroke-width="0.2">25</text>
<line x1="145.70" x2="145.70" y1="175.1" y2="178.6" stroke="#3a3a3a" stroke-width="0.7"/>
<text transform="translate(145.70,188.00) scale(0.9709,1)" font-size="5.974" text-anchor="middle" fill="#2a2a2a" stroke="#2a2a2a" stroke-width="0.2">30</text>
<line x1="164.30" x2="164.30" y1="175.1" y2="178.6" stroke="#3a3a3a" stroke-width="0.7"/>
<text transform="translate(164.30,188.00) scale(0.9709,1)" font-size="5.974" text-anchor="middle" fill="#2a2a2a" stroke="#2a2a2a" stroke-width="0.2">35</text>
<line x1="25.1" x2="28.6" y1="169.45" y2="169.45" stroke="#3a3a3a" stroke-width="0.7"/>
<text transform="translate(20.90,169.45) rotate(-90) scale(0.9709,1)" font-size="5.974" text-anchor="middle" fill="#2a2a2a" stroke="#2a2a2a" stroke-width="0.2">0.0</text>
<line x1="25.1" x2="28.6" y1="140.85" y2="140.85" stroke="#3a3a3a" stroke-width="0.7"/>
<text transform="translate(20.90,140.85) rotate(-90) scale(0.9709,1)" font-size="5.974" text-anchor="middle" fill="#2a2a2a" stroke="#2a2a2a" stroke-width="0.2">0.2</text>
<line x1="25.1" x2="28.6" y1="112.25" y2="112.25" stroke="#3a3a3a" stroke-width="0.7"/>
<text transform="translate(20.90,112.25) rotate(-90) scale(0.9709,1)" font-size="5.974" text-anchor="middle" fill="#2a2a2a" stroke="#2a2a2a" stroke-width="0.2">0.4</text>
<line x1="25.1" x2="28.6" y1="83.65" y2="83.65" stroke="#3a3a3a" stroke-width="0.7"/>
<text transform="translate(20.90,83.65) rotate(-90) scale(0.9709,1)" font-size="5.974" text-anchor="middle" fill="#2a2a2a" stroke="#2a2a2a" stroke-width="0.2">0.6</text>
<line x1="25.1" x2="28.6" y1="55.05" y2="55.05" stroke="#3a3a3a" stroke-width="0.7"/>
<text transform="translate(20.90,55.05) rotate(-90) scale(0.9709,1)" font-size="5.974" text-anchor="middle" fill="#2a2a2a" stroke="#2a2a2a" stroke-width="0.2">0.8</text>
<line x1="25.1" x2="28.6" y1="26.45" y2="26.45" stroke="#3a3a3a" stroke-width="0.7"/>
<text transform="translate(20.90,26.45) rotate(-90) scale(0.9709,1)" font-size="5.974" text-anchor="middle" fill="#2a2a2a" stroke="#2a2a2a" stroke-width="0.2">1.0</text>
<text transform="translate(96.75,8.90) scale(0.9259,1)" font-size="7.603" text-anchor="middle" font-weight="bold" fill="#111" stroke="#111" stroke-width="0.1">a_SphereofInfluence[SphereofInfluence]</text>
<text transform="translate(167.70,31.70) scale(0.9091,1)" font-size="7.700" text-anchor="end" fill="#151515" stroke="#151515" stroke-width="0.17">ESS = 17952.8</text>
<text transform="translate(101.00,200.40) scale(0.9709,1)" font-size="5.974" text-anchor="middle" fill="#2a2a2a" stroke="#2a2a2a" stroke-width="0.2">Lag</text>
<text transform="translate(7.10,98.00) rotate(-90) scale(0.9709,1)" font-size="5.974" text-anchor="middle" fill="#2a2a2a" stroke="#2a2a2a" stroke-width="0.2">Autocorrelation</text>
</g>
<g transform="translate(0.00,216.40)">
<clipPath id="c3"><rect x="28.6" y="20.6" width="144.90" height="154.50"/></clipPath>
<line x1="28.6" x2="173.5" y1="169.45" y2="169.45" stroke="#2a2a2a" stroke-width="0.7" stroke-dasharray="2 2"/>
<g clip-path="url(#c3)">
<line x1="34.10" y1="26.45" x2="37.82" y2="174.48" stroke="#4f7790" stroke-width="0.8"/>
<line x1="34.10" y1="26.45" x2="37.82" y2="174.48" stroke="#DF536B" stroke-width="0.7" stroke-dasharray="1 3" opacity="0.7"/>
<path d="M37.82 174.98 L41.54 167.56 L45.26 164.46 L48.98 170.66 L52.70 170.26 L56.42 172.28 L60.14 171.61 L63.86 166.89 L67.58 168.91 L71.30 169.58 L75.02 169.32 L78.74 167.56 L82.46 168.91 L86.18 171.61 L89.90 168.91 L93.62 169.58 L97.34 165.54 L101.06 170.26 L104.78 171.61 L108.50 169.58 L112.22 169.58 L115.94 170.66 L119.66 171.61 L123.38 168.24 L127.10 163.51 L130.82 168.91 L134.54 171.61 L138.26 172.28 L141.98 168.91 L145.70 164.86 L149.42 171.61 L153.14 168.24 L156.86 168.24 L160.58 168.91 L164.30 173.63 L168.02 170.93" fill="none" stroke="#000000" stroke-width="0.6"/>
<circle cx="34.10" cy="26.45" r="1.2" fill="#000000"/>
<circle cx="37.82" cy="174.98" r="1.2" fill="#000000"/>
<circle cx="41.54" cy="167.56" r="1.2" fill="#000000"/>
<circle cx="45.26" cy="164.46" r="1.2" fill="#000000"/>
<circle cx="48.98" cy="170.66" r="1.2" fill="#000000"/>
<circle cx="52.70" cy="170.26" r="1.2" fill="#000000"/>
<circle cx="56.42" cy="172.28" r="1.2" fill="#000000"/>
<circle cx="60.14" cy="171.61" r="1.2" fill="#000000"/>
<circle cx="63.86" cy="166.89" r="1.2" fill="#000000"/>
<circle cx="67.58" cy="168.91" r="1.2" fill="#000000"/>
<circle cx="71.30" cy="169.58" r="1.2" fill="#000000"/>
<circle cx="75.02" cy="169.32" r="1.2" fill="#000000"/>
<circle cx="78.74" cy="167.56" r="1.2" fill="#000000"/>
<circle cx="82.46" cy="168.91" r="1.2" fill="#000000"/>
<circle cx="86.18" cy="171.61" r="1.2" fill="#000000"/>
<circle cx="89.90" cy="168.91" r="1.2" fill="#000000"/>
<circle cx="93.62" cy="169.58" r="1.2" fill="#000000"/>
<circle cx="97.34" cy="165.54" r="1.2" fill="#000000"/>
<circle cx="101.06" cy="170.26" r="1.2" fill="#000000"/>
<circle cx="104.78" cy="171.61" r="1.2" fill="#000000"/>
<circle cx="108.50" cy="169.58" r="1.2" fill="#000000"/>
<circle cx="112.22" cy="169.58" r="1.2" fill="#000000"/>
<circle cx="115.94" cy="170.66" r="1.2" fill="#000000"/>
<circle cx="119.66" cy="171.61" r="1.2" fill="#000000"/>
<circle cx="123.38" cy="168.24" r="1.2" fill="#000000"/>
<circle cx="127.10" cy="163.51" r="1.2" fill="#000000"/>
<circle cx="130.82" cy="168.91" r="1.2" fill="#000000"/>
<circle cx="134.54" cy="171.61" r="1.2" fill="#000000"/>
<circle cx="138.26" cy="172.28" r="1.2" fill="#000000"/>
<circle cx="141.98" cy="168.91" r="1.2" fill="#000000"/>
<circle cx="145.70" cy="164.86" r="1.2" fill="#000000"/>
<circle cx="149.42" cy="171.61" r="1.2" fill="#000000"/>
<circle cx="153.14" cy="168.24" r="1.2" fill="#000000"/>
<circle cx="156.86" cy="168.24" r="1.2" fill="#000000"/>
<circle cx="160.58" cy="168.91" r="1.2" fill="#000000"/>
<circle cx="164.30" cy="173.63" r="1.2" fill="#000000"/>
<circle cx="168.02" cy="170.93" r="1.2" fill="#000000"/>
<path d="M37.82 173.63 L41.54 166.89 L45.26 166.21 L48.98 168.91 L52.70 168.91 L56.42 168.24 L60.14 167.56 L63.86 168.24 L67.58 164.46 L71.30 166.89 L75.02 167.56 L78.74 168.91 L82.46 168.91 L86.18 172.01 L89.90 168.91 L93.62 166.62 L97.34 167.56 L101.06 169.32 L104.78 166.89 L108.50 172.96 L112.22 165.81 L115.94 167.56 L119.66 170.26 L123.38 166.89 L127.10 166.21 L130.82 163.51 L134.54 168.24 L138.26 167.56 L141.98 168.91 L145.70 168.91 L149.42 167.56 L153.14 170.26 L156.86 168.91 L160.58 171.61 L164.30 164.46 L168.02 168.91" fill="none" stroke="#DF536B" stroke-width="0.6" stroke-dasharray="2.2 2.2"/>
<circle cx="34.10" cy="26.45" r="1.2" fill="#DF536B"/>
<circle cx="37.82" cy="173.63" r="1.2" fill="#DF536B"/>
<circle cx="41.54" cy="166.89" r="1.2" fill="#DF536B"/>
<circle cx="45.26" cy="166.21" r="1.2" fill="#DF536B"/>
<circle cx="48.98" cy="168.91" r="1.2" fill="#DF536B"/>
<circle cx="52.70" cy="168.91" r="1.2" fill="#DF536B"/>
<circle cx="56.42" cy="168.24" r="1.2" fill="#DF536B"/>
<circle cx="60.14" cy="167.56" r="1.2" fill="#DF536B"/>
<circle cx="63.86" cy="168.24" r="1.2" fill="#DF536B"/>
<circle cx="67.58" cy="164.46" r="1.2" fill="#DF536B"/>
<circle cx="71.30" cy="166.89" r="1.2" fill="#DF536B"/>
<circle cx="75.02" cy="167.56" r="1.2" fill="#DF536B"/>
<circle cx="78.74" cy="168.91" r="1.2" fill="#DF536B"/>
<circle cx="82.46" cy="168.91" r="1.2" fill="#DF536B"/>
<circle cx="86.18" cy="172.01" r="1.2" fill="#DF536B"/>
<circle cx="89.90" cy="168.91" r="1.2" fill="#DF536B"/>
<circle cx="93.62" cy="166.62" r="1.2" fill="#DF536B"/>
<circle cx="97.34" cy="167.56" r="1.2" fill="#DF536B"/>
<circle cx="101.06" cy="169.32" r="1.2" fill="#DF536B"/>
<circle cx="104.78" cy="166.89" r="1.2" fill="#DF536B"/>
<circle cx="108.50" cy="172.96" r="1.2" fill="#DF536B"/>
<circle cx="112.22" cy="165.81" r="1.2" fill="#DF536B"/>
<circle cx="115.94" cy="167.56" r="1.2" fill="#DF536B"/>
<circle cx="119.66" cy="170.26" r="1.2" fill="#DF536B"/>
<circle cx="123.38" cy="166.89" r="1.2" fill="#DF536B"/>
<circle cx="127.10" cy="166.21" r="1.2" fill="#DF536B"/>
<circle cx="130.82" cy="163.51" r="1.2" fill="#DF536B"/>
<circle cx="134.54" cy="168.24" r="1.2" fill="#DF536B"/>
<circle cx="138.26" cy="167.56" r="1.2" fill="#DF536B"/>
<circle cx="141.98" cy="168.91" r="1.2" fill="#DF536B"/>
<circle cx="145.70" cy="168.91" r="1.2" fill="#DF536B"/>
<circle cx="149.42" cy="167.56" r="1.2" fill="#DF536B"/>
<circle cx="153.14" cy="170.26" r="1.2" fill="#DF536B"/>
<circle cx="156.86" cy="168.91" r="1.2" fill="#DF536B"/>
<circle cx="160.58" cy="171.61" r="1.2" fill="#DF536B"/>
<circle cx="164.30" cy="164.46" r="1.2" fill="#DF536B"/>
<circle cx="168.02" cy="168.91" r="1.2" fill="#DF536B"/>
<path d="M37.82 174.31 L41.54 163.11 L45.26 166.21 L48.98 165.54 L52.70 169.58 L56.42 168.24 L60.14 168.24 L63.86 166.21 L67.58 170.93 L71.30 166.21 L75.02 171.61 L78.74 168.91 L82.46 171.61 L86.18 168.24 L89.90 172.01 L93.62 169.58 L97.34 168.24 L101.06 170.26 L104.78 168.91 L108.50 171.61 L112.22 170.93 L115.94 169.58 L119.66 170.26 L123.38 166.89 L127.10 168.24 L130.82 171.61 L134.54 168.24 L138.26 167.56 L141.98 166.21 L145.70 168.91 L149.42 170.93 L153.14 170.93 L156.86 170.93 L160.58 171.61 L164.30 168.91 L168.02 170.26" fill="none" stroke="#61D04F" stroke-width="0.6" stroke-dasharray="0.8 2.2"/>
<circle cx="34.10" cy="26.45" r="1.2" fill="#61D04F"/>
<circle cx="37.82" cy="174.31" r="1.2" fill="#61D04F"/>
<circle cx="41.54" cy="163.11" r="1.2" fill="#61D04F"/>
<circle cx="45.26" cy="166.21" r="1.2" fill="#61D04F"/>
<circle cx="48.98" cy="165.54" r="1.2" fill="#61D04F"/>
<circle cx="52.70" cy="169.58" r="1.2" fill="#61D04F"/>
<circle cx="56.42" cy="168.24" r="1.2" fill="#61D04F"/>
<circle cx="60.14" cy="168.24" r="1.2" fill="#61D04F"/>
<circle cx="63.86" cy="166.21" r="1.2" fill="#61D04F"/>
<circle cx="67.58" cy="170.93" r="1.2" fill="#61D04F"/>
<circle cx="71.30" cy="166.21" r="1.2" fill="#61D04F"/>
<circle cx="75.02" cy="171.61" r="1.2" fill="#61D04F"/>
<circle cx="78.74" cy="168.91" r="1.2" fill="#61D04F"/>
<circle cx="82.46" cy="171.61" r="1.2" fill="#61D04F"/>
<circle cx="86.18" cy="168.24" r="1.2" fill="#61D04F"/>
<circle cx="89.90" cy="172.01" r="1.2" fill="#61D04F"/>
<circle cx="93.62" cy="169.58" r="1.2" fill="#61D04F"/>
<circle cx="97.34" cy="168.24" r="1.2" fill="#61D04F"/>
<circle cx="101.06" cy="170.26" r="1.2" fill="#61D04F"/>
<circle cx="104.78" cy="168.91" r="1.2" fill="#61D04F"/>
<circle cx="108.50" cy="171.61" r="1.2" fill="#61D04F"/>
<circle cx="112.22" cy="170.93" r="1.2" fill="#61D04F"/>
<circle cx="115.94" cy="169.58" r="1.2" fill="#61D04F"/>
<circle cx="119.66" cy="170.26" r="1.2" fill="#61D04F"/>
<circle cx="123.38" cy="166.89" r="1.2" fill="#61D04F"/>
<circle cx="127.10" cy="168.24" r="1.2" fill="#61D04F"/>
<circle cx="130.82" cy="171.61" r="1.2" fill="#61D04F"/>
<circle cx="134.54" cy="168.24" r="1.2" fill="#61D04F"/>
<circle cx="138.26" cy="167.56" r="1.2" fill="#61D04F"/>
<circle cx="141.98" cy="166.21" r="1.2" fill="#61D04F"/>
<circle cx="145.70" cy="168.91" r="1.2" fill="#61D04F"/>
<circle cx="149.42" cy="170.93" r="1.2" fill="#61D04F"/>
<circle cx="153.14" cy="170.93" r="1.2" fill="#61D04F"/>
<circle cx="156.86" cy="170.93" r="1.2" fill="#61D04F"/>
<circle cx="160.58" cy="171.61" r="1.2" fill="#61D04F"/>
<circle cx="164.30" cy="168.91" r="1.2" fill="#61D04F"/>
<circle cx="168.02" cy="170.26" r="1.2" fill="#61D04F"/>
<path d="M37.82 174.98 L41.54 167.56 L45.26 166.62 L48.98 170.26 L52.70 167.56 L56.42 167.56 L60.14 166.62 L63.86 163.51 L67.58 173.63 L71.30 167.56 L75.02 170.93 L78.74 171.61 L82.46 167.56 L86.18 169.58 L89.90 168.91 L93.62 167.56 L97.34 169.58 L101.06 171.61 L104.78 168.24 L108.50 167.56 L112.22 168.91 L115.94 168.24 L119.66 172.01 L123.38 164.46 L127.10 164.86 L130.82 169.58 L134.54 169.58 L138.26 168.24 L141.98 170.26 L145.70 167.56 L149.42 170.26 L153.14 164.46 L156.86 174.31 L160.58 168.24 L164.30 170.26 L168.02 168.91" fill="none" stroke="#2297E6" stroke-width="0.6" stroke-dasharray="0.8 2.2 3 2.2"/>
<circle cx="34.10" cy="26.45" r="1.2" fill="#2297E6"/>
<circle cx="37.82" cy="174.98" r="1.2" fill="#2297E6"/>
<circle cx="41.54" cy="167.56" r="1.2" fill="#2297E6"/>
<circle cx="45.26" cy="166.62" r="1.2" fill="#2297E6"/>
<circle cx="48.98" cy="170.26" r="1.2" fill="#2297E6"/>
<circle cx="52.70" cy="167.56" r="1.2" fill="#2297E6"/>
<circle cx="56.42" cy="167.56" r="1.2" fill="#2297E6"/>
<circle cx="60.14" cy="166.62" r="1.2" fill="#2297E6"/>
<circle cx="63.86" cy="163.51" r="1.2" fill="#2297E6"/>
<circle cx="67.58" cy="173.63" r="1.2" fill="#2297E6"/>
<circle cx="71.30" cy="167.56" r="1.2" fill="#2297E6"/>
<circle cx="75.02" cy="170.93" r="1.2" fill="#2297E6"/>
<circle cx="78.74" cy="171.61" r="1.2" fill="#2297E6"/>
<circle cx="82.46" cy="167.56" r="1.2" fill="#2297E6"/>
<circle cx="86.18" cy="169.58" r="1.2" fill="#2297E6"/>
<circle cx="89.90" cy="168.91" r="1.2" fill="#2297E6"/>
<circle cx="93.62" cy="167.56" r="1.2" fill="#2297E6"/>
<circle cx="97.34" cy="169.58" r="1.2" fill="#2297E6"/>
<circle cx="101.06" cy="171.61" r="1.2" fill="#2297E6"/>
<circle cx="104.78" cy="168.24" r="1.2" fill="#2297E6"/>
<circle cx="108.50" cy="167.56" r="1.2" fill="#2297E6"/>
<circle cx="112.22" cy="168.91" r="1.2" fill="#2297E6"/>
<circle cx="115.94" cy="168.24" r="1.2" fill="#2297E6"/>
<circle cx="119.66" cy="172.01" r="1.2" fill="#2297E6"/>
<circle cx="123.38" cy="164.46" r="1.2" fill="#2297E6"/>
<circle cx="127.10" cy="164.86" r="1.2" fill="#2297E6"/>
<circle cx="130.82" cy="169.58" r="1.2" fill="#2297E6"/>
<circle cx="134.54" cy="169.58" r="1.2" fill="#2297E6"/>
<circle cx="138.26" cy="168.24" r="1.2" fill="#2297E6"/>
<circle cx="141.98" cy="170.26" r="1.2" fill="#2297E6"/>
<circle cx="145.70" cy="167.56" r="1.2" fill="#2297E6"/>
<circle cx="149.42" cy="170.26" r="1.2" fill="#2297E6"/>
<circle cx="153.14" cy="164.46" r="1.2" fill="#2297E6"/>
<circle cx="156.86" cy="174.31" r="1.2" fill="#2297E6"/>
<circle cx="160.58" cy="168.24" r="1.2" fill="#2297E6"/>
<circle cx="164.30" cy="170.26" r="1.2" fill="#2297E6"/>
<circle cx="168.02" cy="168.91" r="1.2" fill="#2297E6"/>
</g>
<rect x="28.6" y="20.6" width="144.90" height="154.50" fill="none" stroke="#3a3a3a" stroke-width="0.85"/>
<line x1="34.10" x2="34.10" y1="175.1" y2="178.6" stroke="#3a3a3a" stroke-width="0.7"/>
<text transform="translate(34.10,188.00) scale(0.9709,1)" font-size="5.974" text-anchor="middle" fill="#2a2a2a" stroke="#2a2a2a" stroke-width="0.2">0</text>
<line x1="52.70" x2="52.70" y1="175.1" y2="178.6" stroke="#3a3a3a" stroke-width="0.7"/>
<text transform="translate(52.70,188.00) scale(0.9709,1)" font-size="5.974" text-anchor="middle" fill="#2a2a2a" stroke="#2a2a2a" stroke-width="0.2">5</text>
<line x1="71.30" x2="71.30" y1="175.1" y2="178.6" stroke="#3a3a3a" stroke-width="0.7"/>
<text transform="translate(71.30,188.00) scale(0.9709,1)" font-size="5.974" text-anchor="middle" fill="#2a2a2a" stroke="#2a2a2a" stroke-width="0.2">10</text>
<line x1="89.90" x2="89.90" y1="175.1" y2="178.6" stroke="#3a3a3a" stroke-width="0.7"/>
<text transform="translate(89.90,188.00) scale(0.9709,1)" font-size="5.974" text-anchor="middle" fill="#2a2a2a" stroke="#2a2a2a" stroke-width="0.2">15</text>
<line x1="108.50" x2="108.50" y1="175.1" y2="178.6" stroke="#3a3a3a" stroke-width="0.7"/>
<text transform="translate(108.50,188.00) scale(0.9709,1)" font-size="5.974" text-anchor="middle" fill="#2a2a2a" stroke="#2a2a2a" stroke-width="0.2">20</text>
<line x1="127.10" x2="127.10" y1="175.1" y2="178.6" stroke="#3a3a3a" stroke-width="0.7"/>
<text transform="translate(127.10,188.00) scale(0.9709,1)" font-size="5.974" text-anchor="middle" fill="#2a2a2a" stroke="#2a2a2a" stroke-width="0.2">25</text>
<line x1="145.70" x2="145.70" y1="175.1" y2="178.6" stroke="#3a3a3a" stroke-width="0.7"/>
<text transform="translate(145.70,188.00) scale(0.9709,1)" font-size="5.974" text-anchor="middle" fill="#2a2a2a" stroke="#2a2a2a" stroke-width="0.2">30</text>
<line x1="164.30" x2="164.30" y1="175.1" y2="178.6" stroke="#3a3a3a" stroke-width="0.7"/>
<text transform="translate(164.30,188.00) scale(0.9709,1)" font-size="5.974" text-anchor="middle" fill="#2a2a2a" stroke="#2a2a2a" stroke-width="0.2">35</text>
<line x1="25.1" x2="28.6" y1="169.45" y2="169.45" stroke="#3a3a3a" stroke-width="0.7"/>
<text transform="translate(20.90,169.45) rotate(-90) scale(0.9709,1)" font-size="5.974" text-anchor="middle" fill="#2a2a2a" stroke="#2a2a2a" stroke-width="0.2">0.0</text>
<line x1="25.1" x2="28.6" y1="140.85" y2="140.85" stroke="#3a3a3a" stroke-width="0.7"/>
<text transform="translate(20.90,140.85) rotate(-90) scale(0.9709,1)" font-size="5.974" text-anchor="middle" fill="#2a2a2a" stroke="#2a2a2a" stroke-width="0.2">0.2</text>
<line x1="25.1" x2="28.6" y1="112.25" y2="112.25" stroke="#3a3a3a" stroke-width="0.7"/>
<text transform="translate(20.90,112.25) rotate(-90) scale(0.9709,1)" font-size="5.974" text-anchor="middle" fill="#2a2a2a" stroke="#2a2a2a" stroke-width="0.2">0.4</text>
<line x1="25.1" x2="28.6" y1="83.65" y2="83.65" stroke="#3a3a3a" stroke-width="0.7"/>
<text transform="translate(20.90,83.65) rotate(-90) scale(0.9709,1)" font-size="5.974" text-anchor="middle" fill="#2a2a2a" stroke="#2a2a2a" stroke-width="0.2">0.6</text>
<line x1="25.1" x2="28.6" y1="55.05" y2="55.05" stroke="#3a3a3a" stroke-width="0.7"/>
<text transform="translate(20.90,55.05) rotate(-90) scale(0.9709,1)" font-size="5.974" text-anchor="middle" fill="#2a2a2a" stroke="#2a2a2a" stroke-width="0.2">0.8</text>
<line x1="25.1" x2="28.6" y1="26.45" y2="26.45" stroke="#3a3a3a" stroke-width="0.7"/>
<text transform="translate(20.90,26.45) rotate(-90) scale(0.9709,1)" font-size="5.974" text-anchor="middle" fill="#2a2a2a" stroke="#2a2a2a" stroke-width="0.2">1.0</text>
<text transform="translate(99.40,9.30) scale(0.9259,1)" font-size="7.603" text-anchor="middle" font-weight="bold" fill="#111" stroke="#111" stroke-width="0.1">a_SphereofInfluence[NoSphere]</text>
<text transform="translate(167.70,31.20) scale(0.9091,1)" font-size="7.700" text-anchor="end" fill="#151515" stroke="#151515" stroke-width="0.17">ESS = 15432.8</text>
<text transform="translate(101.00,200.40) scale(0.9709,1)" font-size="5.974" text-anchor="middle" fill="#2a2a2a" stroke="#2a2a2a" stroke-width="0.2">Lag</text>
<text transform="translate(7.10,98.00) rotate(-90) scale(0.9709,1)" font-size="5.974" text-anchor="middle" fill="#2a2a2a" stroke="#2a2a2a" stroke-width="0.2">Autocorrelation</text>
</g>
<g transform="translate(186.30,216.40)">
<clipPath id="c4"><rect x="28.6" y="20.6" width="144.90" height="154.50"/></clipPath>
<line x1="28.6" x2="173.5" y1="169.45" y2="169.45" stroke="#2a2a2a" stroke-width="0.7" stroke-dasharray="2 2"/>
<g clip-path="url(#c4)">
<path d="M34.10 26.45 L37.82 59.91 L41.54 81.50 L45.26 96.23 L48.98 106.96 L52.70 113.11 L56.42 119.83 L60.14 125.41 L63.86 131.13 L67.58 136.13 L71.30 140.13 L75.02 144.28 L78.74 148.57 L82.46 151.43 L86.18 154.15 L89.90 156.44 L93.62 158.30 L97.34 159.87 L101.06 160.58 L104.78 161.30 L108.50 162.87 L112.22 164.30 L115.94 165.45 L119.66 166.59 L123.38 167.30 L127.10 167.73 L130.82 167.73 L134.54 167.30 L138.26 167.30 L141.98 167.73 L145.70 168.31 L149.42 168.73 L153.14 169.02 L156.86 169.45 L160.58 169.88 L164.30 170.02 L168.02 170.31" fill="none" stroke="#000000" stroke-width="0.6"/>
<circle cx="34.10" cy="26.45" r="1.2" fill="#000000"/>
<circle cx="37.82" cy="59.91" r="1.2" fill="#000000"/>
<circle cx="41.54" cy="81.50" r="1.2" fill="#000000"/>
<circle cx="45.26" cy="96.23" r="1.2" fill="#000000"/>
<circle cx="48.98" cy="106.96" r="1.2" fill="#000000"/>
<circle cx="52.70" cy="113.11" r="1.2" fill="#000000"/>
<circle cx="56.42" cy="119.83" r="1.2" fill="#000000"/>
<circle cx="60.14" cy="125.41" r="1.2" fill="#000000"/>
<circle cx="63.86" cy="131.13" r="1.2" fill="#000000"/>
<circle cx="67.58" cy="136.13" r="1.2" fill="#000000"/>
<circle cx="71.30" cy="140.13" r="1.2" fill="#000000"/>
<circle cx="75.02" cy="144.28" r="1.2" fill="#000000"/>
<circle cx="78.74" cy="148.57" r="1.2" fill="#000000"/>
<circle cx="82.46" cy="151.43" r="1.2" fill="#000000"/>
<circle cx="86.18" cy="154.15" r="1.2" fill="#000000"/>
<circle cx="89.90" cy="156.44" r="1.2" fill="#000000"/>
<circle cx="93.62" cy="158.30" r="1.2" fill="#000000"/>
<circle cx="97.34" cy="159.87" r="1.2" fill="#000000"/>
<circle cx="101.06" cy="160.58" r="1.2" fill="#000000"/>
<circle cx="104.78" cy="161.30" r="1.2" fill="#000000"/>
<circle cx="108.50" cy="162.87" r="1.2" fill="#000000"/>
<circle cx="112.22" cy="164.30" r="1.2" fill="#000000"/>
<circle cx="115.94" cy="165.45" r="1.2" fill="#000000"/>
<circle cx="119.66" cy="166.59" r="1.2" fill="#000000"/>
<circle cx="123.38" cy="167.30" r="1.2" fill="#000000"/>
<circle cx="127.10" cy="167.73" r="1.2" fill="#000000"/>
<circle cx="130.82" cy="167.73" r="1.2" fill="#000000"/>
<circle cx="134.54" cy="167.30" r="1.2" fill="#000000"/>
<circle cx="138.26" cy="167.30" r="1.2" fill="#000000"/>
<circle cx="141.98" cy="167.73" r="1.2" fill="#000000"/>
<circle cx="145.70" cy="168.31" r="1.2" fill="#000000"/>
<circle cx="149.42" cy="168.73" r="1.2" fill="#000000"/>
<circle cx="153.14" cy="169.02" r="1.2" fill="#000000"/>
<circle cx="156.86" cy="169.45" r="1.2" fill="#000000"/>
<circle cx="160.58" cy="169.88" r="1.2" fill="#000000"/>
<circle cx="164.30" cy="170.02" r="1.2" fill="#000000"/>
<circle cx="168.02" cy="170.31" r="1.2" fill="#000000"/>
<path d="M34.10 26.45 L37.82 65.63 L41.54 85.79 L45.26 105.81 L48.98 122.55 L52.70 134.56 L56.42 142.85 L60.14 149.57 L63.86 156.01 L67.58 160.01 L71.30 163.87 L75.02 167.30 L78.74 170.59 L82.46 172.88 L86.18 173.31 L89.90 172.45 L93.62 169.45 L97.34 165.73 L101.06 163.59 L104.78 162.59 L108.50 162.01 L112.22 162.87 L115.94 163.59 L119.66 164.30 L123.38 164.59 L127.10 164.73 L130.82 164.30 L134.54 162.01 L138.26 162.87 L141.98 164.30 L145.70 164.73 L149.42 165.16 L153.14 165.59 L156.86 166.30 L160.58 168.73 L164.30 170.31 L168.02 171.31" fill="none" stroke="#DF536B" stroke-width="0.6" stroke-dasharray="2.2 2.2"/>
<circle cx="34.10" cy="26.45" r="1.2" fill="#DF536B"/>
<circle cx="37.82" cy="65.63" r="1.2" fill="#DF536B"/>
<circle cx="41.54" cy="85.79" r="1.2" fill="#DF536B"/>
<circle cx="45.26" cy="105.81" r="1.2" fill="#DF536B"/>
<circle cx="48.98" cy="122.55" r="1.2" fill="#DF536B"/>
<circle cx="52.70" cy="134.56" r="1.2" fill="#DF536B"/>
<circle cx="56.42" cy="142.85" r="1.2" fill="#DF536B"/>
<circle cx="60.14" cy="149.57" r="1.2" fill="#DF536B"/>
<circle cx="63.86" cy="156.01" r="1.2" fill="#DF536B"/>
<circle cx="67.58" cy="160.01" r="1.2" fill="#DF536B"/>
<circle cx="71.30" cy="163.87" r="1.2" fill="#DF536B"/>
<circle cx="75.02" cy="167.30" r="1.2" fill="#DF536B"/>
<circle cx="78.74" cy="170.59" r="1.2" fill="#DF536B"/>
<circle cx="82.46" cy="172.88" r="1.2" fill="#DF536B"/>
<circle cx="86.18" cy="173.31" r="1.2" fill="#DF536B"/>
<circle cx="89.90" cy="172.45" r="1.2" fill="#DF536B"/>
<circle cx="93.62" cy="169.45" r="1.2" fill="#DF536B"/>
<circle cx="97.34" cy="165.73" r="1.2" fill="#DF536B"/>
<circle cx="101.06" cy="163.59" r="1.2" fill="#DF536B"/>
<circle cx="104.78" cy="162.59" r="1.2" fill="#DF536B"/>
<circle cx="108.50" cy="162.01" r="1.2" fill="#DF536B"/>
<circle cx="112.22" cy="162.87" r="1.2" fill="#DF536B"/>
<circle cx="115.94" cy="163.59" r="1.2" fill="#DF536B"/>
<circle cx="119.66" cy="164.30" r="1.2" fill="#DF536B"/>
<circle cx="123.38" cy="164.59" r="1.2" fill="#DF536B"/>
<circle cx="127.10" cy="164.73" r="1.2" fill="#DF536B"/>
<circle cx="130.82" cy="164.30" r="1.2" fill="#DF536B"/>
<circle cx="134.54" cy="162.01" r="1.2" fill="#DF536B"/>
<circle cx="138.26" cy="162.87" r="1.2" fill="#DF536B"/>
<circle cx="141.98" cy="164.30" r="1.2" fill="#DF536B"/>
<circle cx="145.70" cy="164.73" r="1.2" fill="#DF536B"/>
<circle cx="149.42" cy="165.16" r="1.2" fill="#DF536B"/>
<circle cx="153.14" cy="165.59" r="1.2" fill="#DF536B"/>
<circle cx="156.86" cy="166.30" r="1.2" fill="#DF536B"/>
<circle cx="160.58" cy="168.73" r="1.2" fill="#DF536B"/>
<circle cx="164.30" cy="170.31" r="1.2" fill="#DF536B"/>
<circle cx="168.02" cy="171.31" r="1.2" fill="#DF536B"/>
<path d="M34.10 26.45 L37.82 55.48 L41.54 75.21 L45.26 89.66 L48.98 101.81 L52.70 113.68 L56.42 120.83 L60.14 128.84 L63.86 137.27 L67.58 142.85 L71.30 149.14 L75.02 153.72 L78.74 159.44 L82.46 163.16 L86.18 165.45 L89.90 167.30 L93.62 168.16 L97.34 168.73 L101.06 168.73 L104.78 168.73 L108.50 168.73 L112.22 169.02 L115.94 168.73 L119.66 168.02 L123.38 167.30 L127.10 167.30 L130.82 166.88 L134.54 166.30 L138.26 165.88 L141.98 166.30 L145.70 166.88 L149.42 167.73 L153.14 168.73 L156.86 169.16 L160.58 169.45 L164.30 169.45 L168.02 169.45" fill="none" stroke="#61D04F" stroke-width="0.6" stroke-dasharray="0.8 2.2"/>
<circle cx="34.10" cy="26.45" r="1.2" fill="#61D04F"/>
<circle cx="37.82" cy="55.48" r="1.2" fill="#61D04F"/>
<circle cx="41.54" cy="75.21" r="1.2" fill="#61D04F"/>
<circle cx="45.26" cy="89.66" r="1.2" fill="#61D04F"/>
<circle cx="48.98" cy="101.81" r="1.2" fill="#61D04F"/>
<circle cx="52.70" cy="113.68" r="1.2" fill="#61D04F"/>
<circle cx="56.42" cy="120.83" r="1.2" fill="#61D04F"/>
<circle cx="60.14" cy="128.84" r="1.2" fill="#61D04F"/>
<circle cx="63.86" cy="137.27" r="1.2" fill="#61D04F"/>
<circle cx="67.58" cy="142.85" r="1.2" fill="#61D04F"/>
<circle cx="71.30" cy="149.14" r="1.2" fill="#61D04F"/>
<circle cx="75.02" cy="153.72" r="1.2" fill="#61D04F"/>
<circle cx="78.74" cy="159.44" r="1.2" fill="#61D04F"/>
<circle cx="82.46" cy="163.16" r="1.2" fill="#61D04F"/>
<circle cx="86.18" cy="165.45" r="1.2" fill="#61D04F"/>
<circle cx="89.90" cy="167.30" r="1.2" fill="#61D04F"/>
<circle cx="93.62" cy="168.16" r="1.2" fill="#61D04F"/>
<circle cx="97.34" cy="168.73" r="1.2" fill="#61D04F"/>
<circle cx="101.06" cy="168.73" r="1.2" fill="#61D04F"/>
<circle cx="104.78" cy="168.73" r="1.2" fill="#61D04F"/>
<circle cx="108.50" cy="168.73" r="1.2" fill="#61D04F"/>
<circle cx="112.22" cy="169.02" r="1.2" fill="#61D04F"/>
<circle cx="115.94" cy="168.73" r="1.2" fill="#61D04F"/>
<circle cx="119.66" cy="168.02" r="1.2" fill="#61D04F"/>
<circle cx="123.38" cy="167.30" r="1.2" fill="#61D04F"/>
<circle cx="127.10" cy="167.30" r="1.2" fill="#61D04F"/>
<circle cx="130.82" cy="166.88" r="1.2" fill="#61D04F"/>
<circle cx="134.54" cy="166.30" r="1.2" fill="#61D04F"/>
<circle cx="138.26" cy="165.88" r="1.2" fill="#61D04F"/>
<circle cx="141.98" cy="166.30" r="1.2" fill="#61D04F"/>
<circle cx="145.70" cy="166.88" r="1.2" fill="#61D04F"/>
<circle cx="149.42" cy="167.73" r="1.2" fill="#61D04F"/>
<circle cx="153.14" cy="168.73" r="1.2" fill="#61D04F"/>
<circle cx="156.86" cy="169.16" r="1.2" fill="#61D04F"/>
<circle cx="160.58" cy="169.45" r="1.2" fill="#61D04F"/>
<circle cx="164.30" cy="169.45" r="1.2" fill="#61D04F"/>
<circle cx="168.02" cy="169.45" r="1.2" fill="#61D04F"/>
<path d="M34.10 26.45 L37.82 63.34 L41.54 81.93 L45.26 98.66 L48.98 112.25 L52.70 122.55 L56.42 129.98 L60.14 136.70 L63.86 141.99 L67.58 145.14 L71.30 148.00 L75.02 150.29 L78.74 151.43 L82.46 153.00 L86.18 154.86 L89.90 157.15 L93.62 158.15 L97.34 159.87 L101.06 161.30 L104.78 162.87 L108.50 164.30 L112.22 165.30 L115.94 165.16 L119.66 164.73 L123.38 164.73 L127.10 164.59 L130.82 164.59 L134.54 164.59 L138.26 164.30 L141.98 164.30 L145.70 164.59 L149.42 164.73 L153.14 165.30 L156.86 166.59 L160.58 165.73 L164.30 165.45 L168.02 165.45" fill="none" stroke="#2297E6" stroke-width="0.6" stroke-dasharray="0.8 2.2 3 2.2"/>
<circle cx="34.10" cy="26.45" r="1.2" fill="#2297E6"/>
<circle cx="37.82" cy="63.34" r="1.2" fill="#2297E6"/>
<circle cx="41.54" cy="81.93" r="1.2" fill="#2297E6"/>
<circle cx="45.26" cy="98.66" r="1.2" fill="#2297E6"/>
<circle cx="48.98" cy="112.25" r="1.2" fill="#2297E6"/>
<circle cx="52.70" cy="122.55" r="1.2" fill="#2297E6"/>
<circle cx="56.42" cy="129.98" r="1.2" fill="#2297E6"/>
<circle cx="60.14" cy="136.70" r="1.2" fill="#2297E6"/>
<circle cx="63.86" cy="141.99" r="1.2" fill="#2297E6"/>
<circle cx="67.58" cy="145.14" r="1.2" fill="#2297E6"/>
<circle cx="71.30" cy="148.00" r="1.2" fill="#2297E6"/>
<circle cx="75.02" cy="150.29" r="1.2" fill="#2297E6"/>
<circle cx="78.74" cy="151.43" r="1.2" fill="#2297E6"/>
<circle cx="82.46" cy="153.00" r="1.2" fill="#2297E6"/>
<circle cx="86.18" cy="154.86" r="1.2" fill="#2297E6"/>
<circle cx="89.90" cy="157.15" r="1.2" fill="#2297E6"/>
<circle cx="93.62" cy="158.15" r="1.2" fill="#2297E6"/>
<circle cx="97.34" cy="159.87" r="1.2" fill="#2297E6"/>
<circle cx="101.06" cy="161.30" r="1.2" fill="#2297E6"/>
<circle cx="104.78" cy="162.87" r="1.2" fill="#2297E6"/>
<circle cx="108.50" cy="164.30" r="1.2" fill="#2297E6"/>
<circle cx="112.22" cy="165.30" r="1.2" fill="#2297E6"/>
<circle cx="115.94" cy="165.16" r="1.2" fill="#2297E6"/>
<circle cx="119.66" cy="164.73" r="1.2" fill="#2297E6"/>
<circle cx="123.38" cy="164.73" r="1.2" fill="#2297E6"/>
<circle cx="127.10" cy="164.59" r="1.2" fill="#2297E6"/>
<circle cx="130.82" cy="164.59" r="1.2" fill="#2297E6"/>
<circle cx="134.54" cy="164.59" r="1.2" fill="#2297E6"/>
<circle cx="138.26" cy="164.30" r="1.2" fill="#2297E6"/>
<circle cx="141.98" cy="164.30" r="1.2" fill="#2297E6"/>
<circle cx="145.70" cy="164.59" r="1.2" fill="#2297E6"/>
<circle cx="149.42" cy="164.73" r="1.2" fill="#2297E6"/>
<circle cx="153.14" cy="165.30" r="1.2" fill="#2297E6"/>
<circle cx="156.86" cy="166.59" r="1.2" fill="#2297E6"/>
<circle cx="160.58" cy="165.73" r="1.2" fill="#2297E6"/>
<circle cx="164.30" cy="165.45" r="1.2" fill="#2297E6"/>
<circle cx="168.02" cy="165.45" r="1.2" fill="#2297E6"/>
</g>
<rect x="28.6" y="20.6" width="144.90" height="154.50" fill="none" stroke="#3a3a3a" stroke-width="0.85"/>
<line x1="34.10" x2="34.10" y1="175.1" y2="178.6" stroke="#3a3a3a" stroke-width="0.7"/>
<text transform="translate(34.10,188.00) scale(0.9709,1)" font-size="5.974" text-anchor="middle" fill="#2a2a2a" stroke="#2a2a2a" stroke-width="0.2">0</text>
<line x1="52.70" x2="52.70" y1="175.1" y2="178.6" stroke="#3a3a3a" stroke-width="0.7"/>
<text transform="translate(52.70,188.00) scale(0.9709,1)" font-size="5.974" text-anchor="middle" fill="#2a2a2a" stroke="#2a2a2a" stroke-width="0.2">5</text>
<line x1="71.30" x2="71.30" y1="175.1" y2="178.6" stroke="#3a3a3a" stroke-width="0.7"/>
<text transform="translate(71.30,188.00) scale(0.9709,1)" font-size="5.974" text-anchor="middle" fill="#2a2a2a" stroke="#2a2a2a" stroke-width="0.2">10</text>
<line x1="89.90" x2="89.90" y1="175.1" y2="178.6" stroke="#3a3a3a" stroke-width="0.7"/>
<text transform="translate(89.90,188.00) scale(0.9709,1)" font-size="5.974" text-anchor="middle" fill="#2a2a2a" stroke="#2a2a2a" stroke-width="0.2">15</text>
<line x1="108.50" x2="108.50" y1="175.1" y2="178.6" stroke="#3a3a3a" stroke-width="0.7"/>
<text transform="translate(108.50,188.00) scale(0.9709,1)" font-size="5.974" text-anchor="middle" fill="#2a2a2a" stroke="#2a2a2a" stroke-width="0.2">20</text>
<line x1="127.10" x2="127.10" y1="175.1" y2="178.6" stroke="#3a3a3a" stroke-width="0.7"/>
<text transform="translate(127.10,188.00) scale(0.9709,1)" font-size="5.974" text-anchor="middle" fill="#2a2a2a" stroke="#2a2a2a" stroke-width="0.2">25</text>
<line x1="145.70" x2="145.70" y1="175.1" y2="178.6" stroke="#3a3a3a" stroke-width="0.7"/>
<text transform="translate(145.70,188.00) scale(0.9709,1)" font-size="5.974" text-anchor="middle" fill="#2a2a2a" stroke="#2a2a2a" stroke-width="0.2">30</text>
<line x1="164.30" x2="164.30" y1="175.1" y2="178.6" stroke="#3a3a3a" stroke-width="0.7"/>
<text transform="translate(164.30,188.00) scale(0.9709,1)" font-size="5.974" text-anchor="middle" fill="#2a2a2a" stroke="#2a2a2a" stroke-width="0.2">35</text>
<line x1="25.1" x2="28.6" y1="169.45" y2="169.45" stroke="#3a3a3a" stroke-width="0.7"/>
<text transform="translate(20.90,169.45) rotate(-90) scale(0.9709,1)" font-size="5.974" text-anchor="middle" fill="#2a2a2a" stroke="#2a2a2a" stroke-width="0.2">0.0</text>
<line x1="25.1" x2="28.6" y1="140.85" y2="140.85" stroke="#3a3a3a" stroke-width="0.7"/>
<text transform="translate(20.90,140.85) rotate(-90) scale(0.9709,1)" font-size="5.974" text-anchor="middle" fill="#2a2a2a" stroke="#2a2a2a" stroke-width="0.2">0.2</text>
<line x1="25.1" x2="28.6" y1="112.25" y2="112.25" stroke="#3a3a3a" stroke-width="0.7"/>
<text transform="translate(20.90,112.25) rotate(-90) scale(0.9709,1)" font-size="5.974" text-anchor="middle" fill="#2a2a2a" stroke="#2a2a2a" stroke-width="0.2">0.4</text>
<line x1="25.1" x2="28.6" y1="83.65" y2="83.65" stroke="#3a3a3a" stroke-width="0.7"/>
<text transform="translate(20.90,83.65) rotate(-90) scale(0.9709,1)" font-size="5.974" text-anchor="middle" fill="#2a2a2a" stroke="#2a2a2a" stroke-width="0.2">0.6</text>
<line x1="25.1" x2="28.6" y1="55.05" y2="55.05" stroke="#3a3a3a" stroke-width="0.7"/>
<text transform="translate(20.90,55.05) rotate(-90) scale(0.9709,1)" font-size="5.974" text-anchor="middle" fill="#2a2a2a" stroke="#2a2a2a" stroke-width="0.2">0.8</text>
<line x1="25.1" x2="28.6" y1="26.45" y2="26.45" stroke="#3a3a3a" stroke-width="0.7"/>
<text transform="translate(20.90,26.45) rotate(-90) scale(0.9709,1)" font-size="5.974" text-anchor="middle" fill="#2a2a2a" stroke="#2a2a2a" stroke-width="0.2">1.0</text>
<text transform="translate(100.70,9.30) scale(0.9259,1)" font-size="7.603" text-anchor="middle" font-weight="bold" fill="#111" stroke="#111" stroke-width="0.1">a0_SphereofInfluence</text>
<text transform="translate(167.70,31.20) scale(0.9091,1)" font-size="7.700" text-anchor="end" fill="#151515" stroke="#151515" stroke-width="0.17">ESS = 1748.9</text>
<text transform="translate(101.00,200.40) scale(0.9709,1)" font-size="5.974" text-anchor="middle" fill="#2a2a2a" stroke="#2a2a2a" stroke-width="0.2">Lag</text>
<text transform="translate(7.10,98.00) rotate(-90) scale(0.9709,1)" font-size="5.974" text-anchor="middle" fill="#2a2a2a" stroke="#2a2a2a" stroke-width="0.2">Autocorrelation</text>
</g>
<g transform="translate(372.80,216.40)">
<clipPath id="c5"><rect x="28.6" y="20.6" width="144.90" height="154.50"/></clipPath>
<line x1="28.6" x2="173.5" y1="169.45" y2="169.45" stroke="#2a2a2a" stroke-width="0.7" stroke-dasharray="2 2"/>
<g clip-path="url(#c5)">
<path d="M34.10 26.45 L37.82 91.09 L41.54 120.40 L45.26 132.27 L48.98 140.56 L52.70 144.85 L56.42 147.28 L60.14 149.79 L63.86 152.29 L67.58 154.72 L71.30 156.01 L75.02 158.01 L78.74 159.01 L82.46 161.01 L86.18 164.73 L89.90 166.02 L93.62 166.59 L97.34 166.59 L101.06 168.16 L104.78 166.88 L108.50 168.16 L112.22 166.59 L115.94 165.45 L119.66 165.45 L123.38 166.59 L127.10 170.31 L130.82 171.88 L134.54 173.02 L138.26 171.31 L141.98 169.74 L145.70 167.30 L149.42 165.02 L153.14 163.30 L156.86 164.44 L160.58 166.88 L164.30 169.74 L168.02 170.88" fill="none" stroke="#000000" stroke-width="0.6"/>
<circle cx="34.10" cy="26.45" r="1.2" fill="#000000"/>
<circle cx="37.82" cy="91.09" r="1.2" fill="#000000"/>
<circle cx="41.54" cy="120.40" r="1.2" fill="#000000"/>
<circle cx="45.26" cy="132.27" r="1.2" fill="#000000"/>
<circle cx="48.98" cy="140.56" r="1.2" fill="#000000"/>
<circle cx="52.70" cy="144.85" r="1.2" fill="#000000"/>
<circle cx="56.42" cy="147.28" r="1.2" fill="#000000"/>
<circle cx="60.14" cy="149.79" r="1.2" fill="#000000"/>
<circle cx="63.86" cy="152.29" r="1.2" fill="#000000"/>
<circle cx="67.58" cy="154.72" r="1.2" fill="#000000"/>
<circle cx="71.30" cy="156.01" r="1.2" fill="#000000"/>
<circle cx="75.02" cy="158.01" r="1.2" fill="#000000"/>
<circle cx="78.74" cy="159.01" r="1.2" fill="#000000"/>
<circle cx="82.46" cy="161.01" r="1.2" fill="#000000"/>
<circle cx="86.18" cy="164.73" r="1.2" fill="#000000"/>
<circle cx="89.90" cy="166.02" r="1.2" fill="#000000"/>
<circle cx="93.62" cy="166.59" r="1.2" fill="#000000"/>
<circle cx="97.34" cy="166.59" r="1.2" fill="#000000"/>
<circle cx="101.06" cy="168.16" r="1.2" fill="#000000"/>
<circle cx="104.78" cy="166.88" r="1.2" fill="#000000"/>
<circle cx="108.50" cy="168.16" r="1.2" fill="#000000"/>
<circle cx="112.22" cy="166.59" r="1.2" fill="#000000"/>
<circle cx="115.94" cy="165.45" r="1.2" fill="#000000"/>
<circle cx="119.66" cy="165.45" r="1.2" fill="#000000"/>
<circle cx="123.38" cy="166.59" r="1.2" fill="#000000"/>
<circle cx="127.10" cy="170.31" r="1.2" fill="#000000"/>
<circle cx="130.82" cy="171.88" r="1.2" fill="#000000"/>
<circle cx="134.54" cy="173.02" r="1.2" fill="#000000"/>
<circle cx="138.26" cy="171.31" r="1.2" fill="#000000"/>
<circle cx="141.98" cy="169.74" r="1.2" fill="#000000"/>
<circle cx="145.70" cy="167.30" r="1.2" fill="#000000"/>
<circle cx="149.42" cy="165.02" r="1.2" fill="#000000"/>
<circle cx="153.14" cy="163.30" r="1.2" fill="#000000"/>
<circle cx="156.86" cy="164.44" r="1.2" fill="#000000"/>
<circle cx="160.58" cy="166.88" r="1.2" fill="#000000"/>
<circle cx="164.30" cy="169.74" r="1.2" fill="#000000"/>
<circle cx="168.02" cy="170.88" r="1.2" fill="#000000"/>
<path d="M34.10 26.45 L37.82 85.08 L41.54 107.39 L45.26 123.69 L48.98 140.85 L52.70 147.28 L56.42 151.00 L60.14 153.58 L63.86 153.00 L67.58 155.58 L71.30 157.29 L75.02 158.58 L78.74 159.73 L82.46 161.58 L86.18 163.01 L89.90 164.59 L93.62 165.16 L97.34 164.30 L101.06 167.02 L104.78 165.73 L108.50 167.30 L112.22 164.16 L115.94 161.30 L119.66 163.30 L123.38 163.30 L127.10 163.87 L130.82 163.30 L134.54 162.59 L138.26 164.16 L141.98 164.16 L145.70 165.02 L149.42 166.59 L153.14 166.59 L156.86 167.30 L160.58 167.30 L164.30 167.30 L168.02 169.74" fill="none" stroke="#DF536B" stroke-width="0.6" stroke-dasharray="2.2 2.2"/>
<circle cx="34.10" cy="26.45" r="1.2" fill="#DF536B"/>
<circle cx="37.82" cy="85.08" r="1.2" fill="#DF536B"/>
<circle cx="41.54" cy="107.39" r="1.2" fill="#DF536B"/>
<circle cx="45.26" cy="123.69" r="1.2" fill="#DF536B"/>
<circle cx="48.98" cy="140.85" r="1.2" fill="#DF536B"/>
<circle cx="52.70" cy="147.28" r="1.2" fill="#DF536B"/>
<circle cx="56.42" cy="151.00" r="1.2" fill="#DF536B"/>
<circle cx="60.14" cy="153.58" r="1.2" fill="#DF536B"/>
<circle cx="63.86" cy="153.00" r="1.2" fill="#DF536B"/>
<circle cx="67.58" cy="155.58" r="1.2" fill="#DF536B"/>
<circle cx="71.30" cy="157.29" r="1.2" fill="#DF536B"/>
<circle cx="75.02" cy="158.58" r="1.2" fill="#DF536B"/>
<circle cx="78.74" cy="159.73" r="1.2" fill="#DF536B"/>
<circle cx="82.46" cy="161.58" r="1.2" fill="#DF536B"/>
<circle cx="86.18" cy="163.01" r="1.2" fill="#DF536B"/>
<circle cx="89.90" cy="164.59" r="1.2" fill="#DF536B"/>
<circle cx="93.62" cy="165.16" r="1.2" fill="#DF536B"/>
<circle cx="97.34" cy="164.30" r="1.2" fill="#DF536B"/>
<circle cx="101.06" cy="167.02" r="1.2" fill="#DF536B"/>
<circle cx="104.78" cy="165.73" r="1.2" fill="#DF536B"/>
<circle cx="108.50" cy="167.30" r="1.2" fill="#DF536B"/>
<circle cx="112.22" cy="164.16" r="1.2" fill="#DF536B"/>
<circle cx="115.94" cy="161.30" r="1.2" fill="#DF536B"/>
<circle cx="119.66" cy="163.30" r="1.2" fill="#DF536B"/>
<circle cx="123.38" cy="163.30" r="1.2" fill="#DF536B"/>
<circle cx="127.10" cy="163.87" r="1.2" fill="#DF536B"/>
<circle cx="130.82" cy="163.30" r="1.2" fill="#DF536B"/>
<circle cx="134.54" cy="162.59" r="1.2" fill="#DF536B"/>
<circle cx="138.26" cy="164.16" r="1.2" fill="#DF536B"/>
<circle cx="141.98" cy="164.16" r="1.2" fill="#DF536B"/>
<circle cx="145.70" cy="165.02" r="1.2" fill="#DF536B"/>
<circle cx="149.42" cy="166.59" r="1.2" fill="#DF536B"/>
<circle cx="153.14" cy="166.59" r="1.2" fill="#DF536B"/>
<circle cx="156.86" cy="167.30" r="1.2" fill="#DF536B"/>
<circle cx="160.58" cy="167.30" r="1.2" fill="#DF536B"/>
<circle cx="164.30" cy="167.30" r="1.2" fill="#DF536B"/>
<circle cx="168.02" cy="169.74" r="1.2" fill="#DF536B"/>
<path d="M34.10 26.45 L37.82 82.36 L41.54 106.10 L45.26 119.83 L48.98 127.26 L52.70 137.27 L56.42 140.85 L60.14 146.86 L63.86 151.00 L67.58 153.00 L71.30 154.72 L75.02 156.72 L78.74 158.58 L82.46 160.58 L86.18 162.30 L89.90 163.59 L93.62 163.73 L97.34 164.59 L101.06 165.73 L104.78 163.87 L108.50 165.02 L112.22 162.59 L115.94 163.30 L119.66 164.16 L123.38 164.16 L127.10 165.30 L130.82 164.16 L134.54 163.30 L138.26 164.16 L141.98 162.59 L145.70 163.30 L149.42 163.30 L153.14 162.30 L156.86 157.72 L160.58 161.73 L164.30 163.30 L168.02 164.44" fill="none" stroke="#61D04F" stroke-width="0.6" stroke-dasharray="0.8 2.2"/>
<circle cx="34.10" cy="26.45" r="1.2" fill="#61D04F"/>
<circle cx="37.82" cy="82.36" r="1.2" fill="#61D04F"/>
<circle cx="41.54" cy="106.10" r="1.2" fill="#61D04F"/>
<circle cx="45.26" cy="119.83" r="1.2" fill="#61D04F"/>
<circle cx="48.98" cy="127.26" r="1.2" fill="#61D04F"/>
<circle cx="52.70" cy="137.27" r="1.2" fill="#61D04F"/>
<circle cx="56.42" cy="140.85" r="1.2" fill="#61D04F"/>
<circle cx="60.14" cy="146.86" r="1.2" fill="#61D04F"/>
<circle cx="63.86" cy="151.00" r="1.2" fill="#61D04F"/>
<circle cx="67.58" cy="153.00" r="1.2" fill="#61D04F"/>
<circle cx="71.30" cy="154.72" r="1.2" fill="#61D04F"/>
<circle cx="75.02" cy="156.72" r="1.2" fill="#61D04F"/>
<circle cx="78.74" cy="158.58" r="1.2" fill="#61D04F"/>
<circle cx="82.46" cy="160.58" r="1.2" fill="#61D04F"/>
<circle cx="86.18" cy="162.30" r="1.2" fill="#61D04F"/>
<circle cx="89.90" cy="163.59" r="1.2" fill="#61D04F"/>
<circle cx="93.62" cy="163.73" r="1.2" fill="#61D04F"/>
<circle cx="97.34" cy="164.59" r="1.2" fill="#61D04F"/>
<circle cx="101.06" cy="165.73" r="1.2" fill="#61D04F"/>
<circle cx="104.78" cy="163.87" r="1.2" fill="#61D04F"/>
<circle cx="108.50" cy="165.02" r="1.2" fill="#61D04F"/>
<circle cx="112.22" cy="162.59" r="1.2" fill="#61D04F"/>
<circle cx="115.94" cy="163.30" r="1.2" fill="#61D04F"/>
<circle cx="119.66" cy="164.16" r="1.2" fill="#61D04F"/>
<circle cx="123.38" cy="164.16" r="1.2" fill="#61D04F"/>
<circle cx="127.10" cy="165.30" r="1.2" fill="#61D04F"/>
<circle cx="130.82" cy="164.16" r="1.2" fill="#61D04F"/>
<circle cx="134.54" cy="163.30" r="1.2" fill="#61D04F"/>
<circle cx="138.26" cy="164.16" r="1.2" fill="#61D04F"/>
<circle cx="141.98" cy="162.59" r="1.2" fill="#61D04F"/>
<circle cx="145.70" cy="163.30" r="1.2" fill="#61D04F"/>
<circle cx="149.42" cy="163.30" r="1.2" fill="#61D04F"/>
<circle cx="153.14" cy="162.30" r="1.2" fill="#61D04F"/>
<circle cx="156.86" cy="157.72" r="1.2" fill="#61D04F"/>
<circle cx="160.58" cy="161.73" r="1.2" fill="#61D04F"/>
<circle cx="164.30" cy="163.30" r="1.2" fill="#61D04F"/>
<circle cx="168.02" cy="164.44" r="1.2" fill="#61D04F"/>
<path d="M34.10 26.45 L37.82 86.51 L41.54 109.82 L45.26 124.83 L48.98 133.70 L52.70 142.28 L56.42 146.00 L60.14 148.57 L63.86 150.57 L67.58 153.58 L71.30 155.58 L75.02 158.01 L78.74 159.73 L82.46 163.01 L86.18 165.45 L89.90 166.88 L93.62 168.31 L97.34 169.45 L101.06 172.17 L104.78 173.02 L108.50 173.02 L112.22 168.16 L115.94 166.59 L119.66 163.30 L123.38 164.16 L127.10 163.87 L130.82 163.30 L134.54 167.73 L138.26 169.31 L141.98 168.59 L145.70 166.59 L149.42 165.02 L153.14 165.02 L156.86 166.88 L160.58 169.74 L164.30 170.31 L168.02 171.31" fill="none" stroke="#2297E6" stroke-width="0.6" stroke-dasharray="0.8 2.2 3 2.2"/>
<circle cx="34.10" cy="26.45" r="1.2" fill="#2297E6"/>
<circle cx="37.82" cy="86.51" r="1.2" fill="#2297E6"/>
<circle cx="41.54" cy="109.82" r="1.2" fill="#2297E6"/>
<circle cx="45.26" cy="124.83" r="1.2" fill="#2297E6"/>
<circle cx="48.98" cy="133.70" r="1.2" fill="#2297E6"/>
<circle cx="52.70" cy="142.28" r="1.2" fill="#2297E6"/>
<circle cx="56.42" cy="146.00" r="1.2" fill="#2297E6"/>
<circle cx="60.14" cy="148.57" r="1.2" fill="#2297E6"/>
<circle cx="63.86" cy="150.57" r="1.2" fill="#2297E6"/>
<circle cx="67.58" cy="153.58" r="1.2" fill="#2297E6"/>
<circle cx="71.30" cy="155.58" r="1.2" fill="#2297E6"/>
<circle cx="75.02" cy="158.01" r="1.2" fill="#2297E6"/>
<circle cx="78.74" cy="159.73" r="1.2" fill="#2297E6"/>
<circle cx="82.46" cy="163.01" r="1.2" fill="#2297E6"/>
<circle cx="86.18" cy="165.45" r="1.2" fill="#2297E6"/>
<circle cx="89.90" cy="166.88" r="1.2" fill="#2297E6"/>
<circle cx="93.62" cy="168.31" r="1.2" fill="#2297E6"/>
<circle cx="97.34" cy="169.45" r="1.2" fill="#2297E6"/>
<circle cx="101.06" cy="172.17" r="1.2" fill="#2297E6"/>
<circle cx="104.78" cy="173.02" r="1.2" fill="#2297E6"/>
<circle cx="108.50" cy="173.02" r="1.2" fill="#2297E6"/>
<circle cx="112.22" cy="168.16" r="1.2" fill="#2297E6"/>
<circle cx="115.94" cy="166.59" r="1.2" fill="#2297E6"/>
<circle cx="119.66" cy="163.30" r="1.2" fill="#2297E6"/>
<circle cx="123.38" cy="164.16" r="1.2" fill="#2297E6"/>
<circle cx="127.10" cy="163.87" r="1.2" fill="#2297E6"/>
<circle cx="130.82" cy="163.30" r="1.2" fill="#2297E6"/>
<circle cx="134.54" cy="167.73" r="1.2" fill="#2297E6"/>
<circle cx="138.26" cy="169.31" r="1.2" fill="#2297E6"/>
<circle cx="141.98" cy="168.59" r="1.2" fill="#2297E6"/>
<circle cx="145.70" cy="166.59" r="1.2" fill="#2297E6"/>
<circle cx="149.42" cy="165.02" r="1.2" fill="#2297E6"/>
<circle cx="153.14" cy="165.02" r="1.2" fill="#2297E6"/>
<circle cx="156.86" cy="166.88" r="1.2" fill="#2297E6"/>
<circle cx="160.58" cy="169.74" r="1.2" fill="#2297E6"/>
<circle cx="164.30" cy="170.31" r="1.2" fill="#2297E6"/>
<circle cx="168.02" cy="171.31" r="1.2" fill="#2297E6"/>
</g>
<rect x="28.6" y="20.6" width="144.90" height="154.50" fill="none" stroke="#3a3a3a" stroke-width="0.85"/>
<line x1="34.10" x2="34.10" y1="175.1" y2="178.6" stroke="#3a3a3a" stroke-width="0.7"/>
<text transform="translate(34.10,188.00) scale(0.9709,1)" font-size="5.974" text-anchor="middle" fill="#2a2a2a" stroke="#2a2a2a" stroke-width="0.2">0</text>
<line x1="52.70" x2="52.70" y1="175.1" y2="178.6" stroke="#3a3a3a" stroke-width="0.7"/>
<text transform="translate(52.70,188.00) scale(0.9709,1)" font-size="5.974" text-anchor="middle" fill="#2a2a2a" stroke="#2a2a2a" stroke-width="0.2">5</text>
<line x1="71.30" x2="71.30" y1="175.1" y2="178.6" stroke="#3a3a3a" stroke-width="0.7"/>
<text transform="translate(71.30,188.00) scale(0.9709,1)" font-size="5.974" text-anchor="middle" fill="#2a2a2a" stroke="#2a2a2a" stroke-width="0.2">10</text>
<line x1="89.90" x2="89.90" y1="175.1" y2="178.6" stroke="#3a3a3a" stroke-width="0.7"/>
<text transform="translate(89.90,188.00) scale(0.9709,1)" font-size="5.974" text-anchor="middle" fill="#2a2a2a" stroke="#2a2a2a" stroke-width="0.2">15</text>
<line x1="108.50" x2="108.50" y1="175.1" y2="178.6" stroke="#3a3a3a" stroke-width="0.7"/>
<text transform="translate(108.50,188.00) scale(0.9709,1)" font-size="5.974" text-anchor="middle" fill="#2a2a2a" stroke="#2a2a2a" stroke-width="0.2">20</text>
<line x1="127.10" x2="127.10" y1="175.1" y2="178.6" stroke="#3a3a3a" stroke-width="0.7"/>
<text transform="translate(127.10,188.00) scale(0.9709,1)" font-size="5.974" text-anchor="middle" fill="#2a2a2a" stroke="#2a2a2a" stroke-width="0.2">25</text>
<line x1="145.70" x2="145.70" y1="175.1" y2="178.6" stroke="#3a3a3a" stroke-width="0.7"/>
<text transform="translate(145.70,188.00) scale(0.9709,1)" font-size="5.974" text-anchor="middle" fill="#2a2a2a" stroke="#2a2a2a" stroke-width="0.2">30</text>
<line x1="164.30" x2="164.30" y1="175.1" y2="178.6" stroke="#3a3a3a" stroke-width="0.7"/>
<text transform="translate(164.30,188.00) scale(0.9709,1)" font-size="5.974" text-anchor="middle" fill="#2a2a2a" stroke="#2a2a2a" stroke-width="0.2">35</text>
<line x1="25.1" x2="28.6" y1="169.45" y2="169.45" stroke="#3a3a3a" stroke-width="0.7"/>
<text transform="translate(20.90,169.45) rotate(-90) scale(0.9709,1)" font-size="5.974" text-anchor="middle" fill="#2a2a2a" stroke="#2a2a2a" stroke-width="0.2">0.0</text>
<line x1="25.1" x2="28.6" y1="140.85" y2="140.85" stroke="#3a3a3a" stroke-width="0.7"/>
<text transform="translate(20.90,140.85) rotate(-90) scale(0.9709,1)" font-size="5.974" text-anchor="middle" fill="#2a2a2a" stroke="#2a2a2a" stroke-width="0.2">0.2</text>
<line x1="25.1" x2="28.6" y1="112.25" y2="112.25" stroke="#3a3a3a" stroke-width="0.7"/>
<text transform="translate(20.90,112.25) rotate(-90) scale(0.9709,1)" font-size="5.974" text-anchor="middle" fill="#2a2a2a" stroke="#2a2a2a" stroke-width="0.2">0.4</text>
<line x1="25.1" x2="28.6" y1="83.65" y2="83.65" stroke="#3a3a3a" stroke-width="0.7"/>
<text transform="translate(20.90,83.65) rotate(-90) scale(0.9709,1)" font-size="5.974" text-anchor="middle" fill="#2a2a2a" stroke="#2a2a2a" stroke-width="0.2">0.6</text>
<line x1="25.1" x2="28.6" y1="55.05" y2="55.05" stroke="#3a3a3a" stroke-width="0.7"/>
<text transform="translate(20.90,55.05) rotate(-90) scale(0.9709,1)" font-size="5.974" text-anchor="middle" fill="#2a2a2a" stroke="#2a2a2a" stroke-width="0.2">0.8</text>
<line x1="25.1" x2="28.6" y1="26.45" y2="26.45" stroke="#3a3a3a" stroke-width="0.7"/>
<text transform="translate(20.90,26.45) rotate(-90) scale(0.9709,1)" font-size="5.974" text-anchor="middle" fill="#2a2a2a" stroke="#2a2a2a" stroke-width="0.2">1.0</text>
<text transform="translate(100.40,9.30) scale(0.9259,1)" font-size="7.603" text-anchor="middle" font-weight="bold" fill="#111" stroke="#111" stroke-width="0.1">sigma_SphereofInfluence</text>
<text transform="translate(167.70,31.20) scale(0.9091,1)" font-size="7.700" text-anchor="end" fill="#151515" stroke="#151515" stroke-width="0.17">ESS = 2646.1</text>
<text transform="translate(101.00,200.40) scale(0.9709,1)" font-size="5.974" text-anchor="middle" fill="#2a2a2a" stroke="#2a2a2a" stroke-width="0.2">Lag</text>
<text transform="translate(7.10,98.00) rotate(-90) scale(0.9709,1)" font-size="5.974" text-anchor="middle" fill="#2a2a2a" stroke="#2a2a2a" stroke-width="0.2">Autocorrelation</text>
</g>
</svg></body></html>
